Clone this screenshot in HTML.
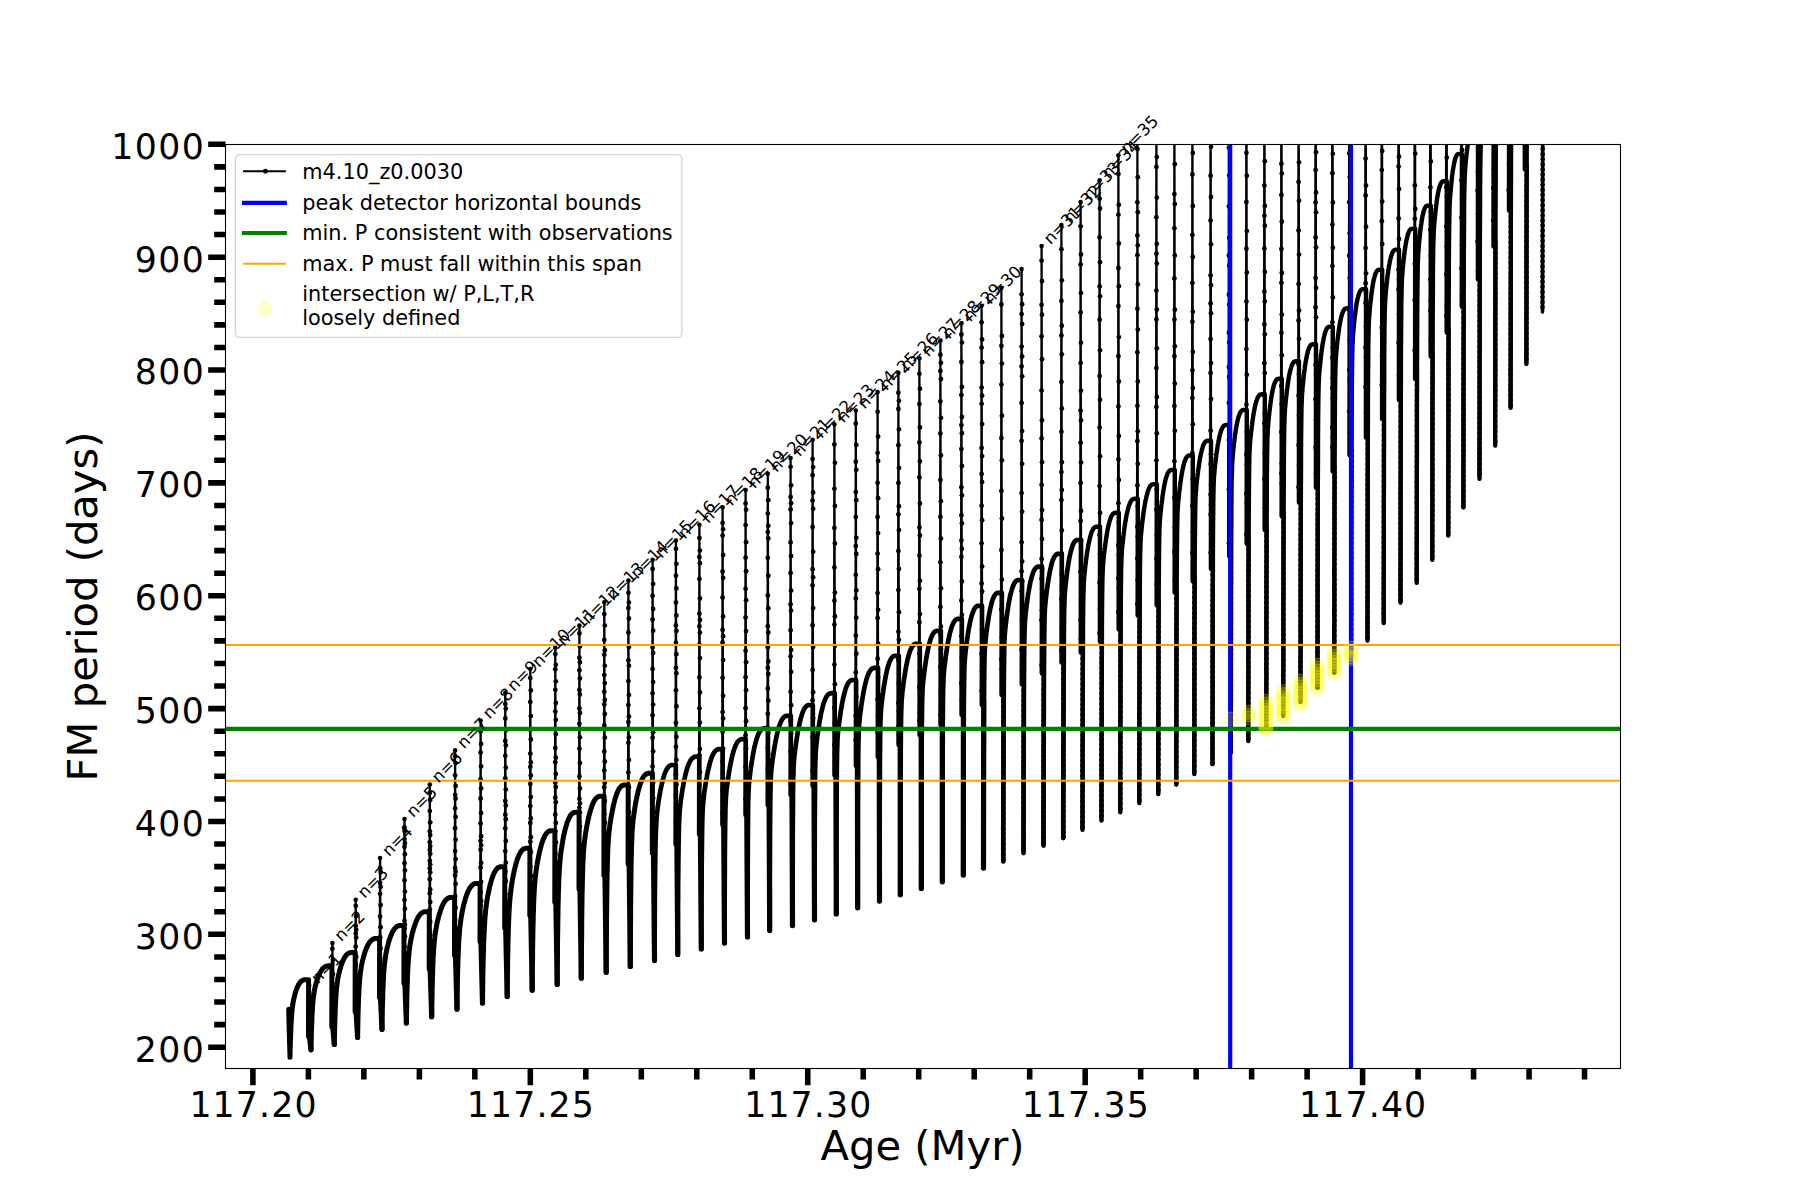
<!DOCTYPE html>
<html lang="en"><head><meta charset="utf-8"><title>FM period vs Age</title>
<style>html,body{margin:0;padding:0;background:#fff;overflow:hidden}svg{display:block}text{font-family:'DejaVu Sans','Liberation Sans',sans-serif;fill:#000}</style></head><body>
<svg width="1800" height="1200" viewBox="0 0 1800 1200">
<rect x="0" y="0" width="1800" height="1200" fill="#fff"/>
<defs><clipPath id="ax"><rect x="225.5" y="144.5" width="1395.0" height="924.0"/></clipPath></defs>
<g clip-path="url(#ax)" fill="none" stroke="#000" stroke-linecap="round" stroke-linejoin="round">
<path stroke-width="2.3" d="M308.7 1036.5 L309.1 985.3 L309.6 1036.5 M332.0 1027.0 L332.4 943.1 L332.9 1027.0 M355.3 1012.1 L355.7 899.8 L356.2 1012.1 M379.7 997.8 L380.1 858.1 L380.6 997.8 M404.1 983.5 L404.5 819.0 L405.0 983.5 M429.4 969.3 L429.8 784.6 L430.3 969.3 M454.7 955.5 L455.1 750.3 L455.6 955.5 M480.2 941.8 L480.6 720.6 L481.1 941.8 M504.9 928.3 L505.3 693.1 L505.8 928.3 M529.9 915.8 L530.3 669.0 L530.8 915.8 M554.9 902.5 L555.3 647.8 L555.8 902.5 M579.0 889.2 L579.4 625.6 L579.9 889.2 M603.9 875.8 L604.3 602.3 L604.8 875.8 M628.0 864.2 L628.4 580.6 L628.9 864.2 M652.2 853.3 L652.6 559.8 L653.1 853.3 M675.5 844.2 L675.9 540.6 L676.4 844.2 M699.0 834.2 L699.4 524.8 L699.9 834.2 M722.2 825.0 L722.6 507.3 L723.1 825.0 M745.2 815.0 L745.6 490.0 L746.1 815.0 M767.4 805.0 L767.8 473.7 L768.3 805.0 M790.2 795.0 L790.6 458.1 L791.1 795.0 M812.2 785.8 L812.6 439.8 L813.1 785.8 M834.0 775.3 L834.4 424.2 L834.9 775.3 M855.4 765.8 L855.8 410.5 L856.3 765.8 M877.2 757.0 L877.6 392.1 L878.1 757.0 M898.0 745.0 L898.4 372.9 L898.9 745.0 M919.0 735.0 L919.4 358.2 L919.9 735.0 M940.0 725.0 L940.4 340.5 L940.9 725.0 M961.0 715.0 L961.4 323.3 L961.9 715.0 M981.2 705.0 L981.6 305.8 L982.1 705.0 M1001.0 695.0 L1001.4 287.8 L1001.9 695.0 M1021.2 684.2 L1021.6 269.1 L1022.1 684.2 M1041.2 673.3 L1041.6 246.1 L1042.1 673.3 M1061.0 662.5 L1061.4 225.0 L1061.9 662.5 M1080.2 652.5 L1080.6 202.0 L1081.1 652.5 M1099.2 641.5 L1099.6 180.3 L1100.1 641.5 M1118.0 629.2 L1118.4 155.3 L1118.9 629.2 M1137.0 615.5 L1137.4 132.3 L1137.9 615.5 M1156.0 605.3 L1156.4 109.3 L1156.9 605.3 M1174.0 592.5 L1174.4 86.3 L1174.9 592.5 M1192.0 581.3 L1192.4 63.3 L1192.9 581.3 M1210.2 568.8 L1210.6 40.3 L1211.1 568.8 M1228.5 556.3 L1228.9 17.3 L1229.4 556.3 M1246.0 543.8 L1246.4 -5.7 L1246.9 543.8 M1264.0 530.0 L1264.4 -28.7 L1264.9 530.0 M1281.0 516.3 L1281.4 -51.7 L1281.9 516.3 M1298.2 502.6 L1298.6 -74.7 L1299.1 502.6 M1315.2 487.6 L1315.6 -97.7 L1316.1 487.6 M1332.0 471.4 L1332.4 -120.7 L1332.9 471.4 M1348.9 455.1 L1349.3 -143.7 L1349.8 455.1 M1365.2 437.6 L1365.6 -166.7 L1366.1 437.6 M1381.4 418.9 L1381.8 -189.7 L1382.3 418.9 M1398.2 400.1 L1398.6 -212.7 L1399.1 400.1 M1414.4 378.9 L1414.8 -235.7 L1415.3 378.9 M1430.0 356.4 L1430.4 -258.7 L1430.9 356.4 M1446.0 332.6 L1446.4 -281.7 L1446.9 332.6 M1461.1 306.6 L1461.5 -304.7 L1462.0 306.6 M1477.2 279.2 L1477.6 -327.7 L1478.1 279.2 M1492.9 246.6 L1493.3 -350.7 L1493.8 246.6 M1508.3 210.6 L1508.7 -373.7 L1509.2 210.6 M1524.1 169.2 L1524.5 -396.7 L1525.0 169.2 M1540.2 122.5 L1540.6 -419.7 L1541.1 122.5"/>
<path stroke-width="5.0" d="M288.7 1009.2 L289.2 1030.0 L290.0 1057.2 M290.0 1057.2 L290.0 1057.2 L290.0 1057.1 L290.0 1056.8 L290.0 1056.4 L290.0 1055.8 L290.0 1055.0 L290.1 1054.0 L290.1 1052.7 L290.1 1051.2 L290.2 1049.6 L290.2 1047.7 L290.3 1045.6 L290.3 1043.4 L290.4 1041.1 L290.5 1038.6 L290.6 1036.1 L290.7 1033.5 L290.8 1030.9 L290.9 1028.3 L291.0 1025.7 L291.1 1023.2 L291.3 1020.7 L291.4 1018.4 L291.6 1016.1 L291.7 1014.0 L291.9 1011.9 L292.1 1010.0 L292.3 1008.1 L292.5 1006.4 L292.8 1004.8 L293.0 1003.2 L293.2 1001.7 L293.5 1000.3 L293.8 998.9 L294.1 997.6 L294.4 996.4 L294.7 995.1 L295.0 994.0 L295.3 992.8 L295.7 991.7 L296.0 990.6 L296.4 989.6 L296.8 988.5 L297.2 987.6 L297.6 986.6 L298.0 985.7 L298.5 984.9 L298.9 984.1 L299.4 983.4 L299.9 982.7 L300.4 982.1 L300.9 981.6 L301.4 981.1 L302.0 980.7 L302.6 980.4 L303.1 980.1 L303.7 979.9 L304.3 979.8 L305.0 979.8 L305.6 979.8 L308.6 979.8 L308.5 1036.5 M311.0 1049.8 L311.0 1049.8 L311.0 1049.7 L311.0 1049.4 L311.0 1048.8 L311.0 1048.1 L311.1 1047.1 L311.1 1045.8 L311.1 1044.3 L311.2 1042.6 L311.2 1040.6 L311.3 1038.3 L311.3 1035.9 L311.4 1033.3 L311.5 1030.6 L311.6 1027.8 L311.7 1024.9 L311.8 1022.0 L311.9 1019.1 L312.0 1016.2 L312.1 1013.5 L312.3 1010.8 L312.5 1008.2 L312.6 1005.7 L312.8 1003.4 L313.0 1001.2 L313.2 999.2 L313.4 997.2 L313.7 995.4 L313.9 993.7 L314.2 992.1 L314.4 990.5 L314.7 989.1 L315.0 987.6 L315.3 986.3 L315.7 985.0 L316.0 983.7 L316.3 982.4 L316.7 981.2 L317.1 980.0 L317.5 978.8 L317.9 977.6 L318.3 976.5 L318.8 975.4 L319.2 974.4 L319.7 973.4 L320.2 972.4 L320.7 971.5 L321.2 970.7 L321.8 969.9 L322.3 969.1 L322.9 968.5 L323.5 967.9 L324.1 967.4 L324.8 967.0 L325.4 966.6 L326.1 966.3 L326.7 966.1 L327.4 966.0 L328.2 966.0 L328.9 966.0 L331.9 966.0 L331.8 1027.0 M334.3 1044.5 L334.3 1044.5 L334.3 1044.4 L334.3 1044.0 L334.3 1043.4 L334.3 1042.6 L334.4 1041.5 L334.4 1040.2 L334.4 1038.5 L334.5 1036.6 L334.5 1034.4 L334.6 1031.9 L334.6 1029.3 L334.7 1026.4 L334.8 1023.4 L334.9 1020.3 L335.0 1017.2 L335.1 1014.0 L335.2 1010.8 L335.3 1007.7 L335.4 1004.6 L335.6 1001.7 L335.8 998.8 L335.9 996.1 L336.1 993.6 L336.3 991.2 L336.5 988.9 L336.7 986.8 L337.0 984.8 L337.2 982.9 L337.5 981.1 L337.7 979.4 L338.0 977.8 L338.3 976.3 L338.6 974.8 L339.0 973.3 L339.3 971.9 L339.6 970.5 L340.0 969.2 L340.4 967.8 L340.8 966.5 L341.2 965.3 L341.6 964.1 L342.1 962.9 L342.5 961.7 L343.0 960.6 L343.5 959.6 L344.0 958.6 L344.5 957.6 L345.1 956.8 L345.6 956.0 L346.2 955.2 L346.8 954.6 L347.4 954.0 L348.1 953.6 L348.7 953.2 L349.4 952.9 L350.0 952.7 L350.7 952.5 L351.5 952.5 L352.2 952.5 L355.2 952.5 L355.1 1012.1 M357.6 1037.4 L357.6 1037.4 L357.6 1037.2 L357.6 1036.8 L357.6 1036.2 L357.6 1035.3 L357.7 1034.0 L357.7 1032.5 L357.7 1030.6 L357.8 1028.4 L357.8 1026.0 L357.9 1023.2 L357.9 1020.3 L358.0 1017.1 L358.1 1013.8 L358.2 1010.4 L358.3 1006.9 L358.4 1003.5 L358.5 1000.0 L358.7 996.6 L358.8 993.4 L359.0 990.2 L359.1 987.3 L359.3 984.4 L359.5 981.8 L359.7 979.3 L359.9 976.9 L360.2 974.7 L360.4 972.7 L360.7 970.7 L361.0 968.9 L361.2 967.1 L361.5 965.5 L361.9 963.8 L362.2 962.3 L362.5 960.8 L362.9 959.3 L363.3 957.8 L363.7 956.4 L364.1 955.0 L364.5 953.6 L364.9 952.2 L365.4 950.9 L365.9 949.6 L366.3 948.4 L366.9 947.2 L367.4 946.1 L367.9 945.0 L368.5 944.0 L369.1 943.1 L369.6 942.2 L370.3 941.4 L370.9 940.8 L371.5 940.2 L372.2 939.7 L372.9 939.2 L373.6 938.9 L374.3 938.7 L375.1 938.5 L375.8 938.5 L376.6 938.5 L379.6 938.5 L379.5 997.8 M382.0 1029.4 L382.0 1029.4 L382.0 1029.2 L382.0 1028.8 L382.0 1028.1 L382.0 1027.1 L382.1 1025.9 L382.1 1024.2 L382.1 1022.3 L382.2 1020.0 L382.2 1017.4 L382.3 1014.5 L382.3 1011.4 L382.4 1008.1 L382.5 1004.6 L382.6 1001.0 L382.7 997.4 L382.8 993.7 L382.9 990.1 L383.1 986.6 L383.2 983.2 L383.4 979.9 L383.5 976.7 L383.7 973.7 L383.9 970.9 L384.1 968.3 L384.3 965.9 L384.6 963.6 L384.8 961.4 L385.1 959.4 L385.4 957.4 L385.6 955.6 L385.9 953.8 L386.3 952.1 L386.6 950.5 L386.9 948.9 L387.3 947.3 L387.7 945.8 L388.1 944.3 L388.5 942.8 L388.9 941.3 L389.3 939.9 L389.8 938.5 L390.3 937.2 L390.7 935.9 L391.3 934.7 L391.8 933.5 L392.3 932.3 L392.9 931.3 L393.5 930.3 L394.0 929.4 L394.7 928.6 L395.3 927.9 L395.9 927.2 L396.6 926.7 L397.3 926.3 L398.0 925.9 L398.7 925.7 L399.5 925.5 L400.2 925.5 L401.0 925.5 L404.0 925.5 L403.9 983.5 M406.4 1023.1 L406.4 1023.1 L406.4 1022.9 L406.4 1022.4 L406.4 1021.7 L406.4 1020.6 L406.5 1019.1 L406.5 1017.3 L406.5 1015.1 L406.6 1012.6 L406.6 1009.7 L406.7 1006.6 L406.8 1003.1 L406.8 999.5 L406.9 995.7 L407.0 991.8 L407.1 987.8 L407.3 983.9 L407.4 980.0 L407.5 976.2 L407.7 972.5 L407.8 969.0 L408.0 965.7 L408.2 962.6 L408.4 959.7 L408.6 956.9 L408.9 954.4 L409.1 952.0 L409.4 949.7 L409.6 947.6 L409.9 945.6 L410.2 943.7 L410.5 941.9 L410.9 940.1 L411.2 938.4 L411.6 936.7 L411.9 935.0 L412.3 933.4 L412.8 931.8 L413.2 930.2 L413.6 928.7 L414.1 927.2 L414.6 925.7 L415.1 924.2 L415.6 922.9 L416.1 921.5 L416.6 920.3 L417.2 919.0 L417.8 917.9 L418.4 916.9 L419.0 915.9 L419.7 915.0 L420.3 914.2 L421.0 913.6 L421.7 913.0 L422.4 912.5 L423.1 912.2 L423.9 911.9 L424.7 911.7 L425.5 911.7 L426.3 911.7 L429.3 911.7 L429.2 969.3 M431.7 1016.8 L431.7 1016.8 L431.7 1016.6 L431.7 1016.1 L431.7 1015.3 L431.7 1014.1 L431.8 1012.5 L431.8 1010.6 L431.8 1008.3 L431.9 1005.6 L431.9 1002.5 L432.0 999.1 L432.1 995.4 L432.1 991.5 L432.2 987.4 L432.3 983.3 L432.4 979.0 L432.6 974.8 L432.7 970.6 L432.8 966.6 L433.0 962.7 L433.1 958.9 L433.3 955.4 L433.5 952.0 L433.7 948.9 L433.9 945.9 L434.2 943.2 L434.4 940.6 L434.7 938.2 L434.9 936.0 L435.2 933.8 L435.5 931.8 L435.8 929.8 L436.2 927.9 L436.5 926.1 L436.9 924.3 L437.2 922.5 L437.6 920.7 L438.1 919.0 L438.5 917.3 L438.9 915.7 L439.4 914.1 L439.9 912.5 L440.4 910.9 L440.9 909.5 L441.4 908.0 L441.9 906.7 L442.5 905.4 L443.1 904.2 L443.7 903.0 L444.3 902.0 L445.0 901.1 L445.6 900.2 L446.3 899.5 L447.0 898.9 L447.7 898.4 L448.4 898.0 L449.2 897.7 L450.0 897.6 L450.8 897.5 L451.6 897.5 L454.6 897.5 L454.5 955.5 M457.0 1009.2 L457.0 1009.2 L457.0 1008.9 L457.0 1008.4 L457.0 1007.6 L457.0 1006.3 L457.1 1004.7 L457.1 1002.6 L457.1 1000.1 L457.2 997.3 L457.2 994.0 L457.3 990.4 L457.4 986.5 L457.4 982.4 L457.5 978.1 L457.6 973.6 L457.7 969.2 L457.9 964.7 L458.0 960.3 L458.1 956.0 L458.3 951.9 L458.5 948.0 L458.6 944.2 L458.8 940.7 L459.0 937.5 L459.3 934.4 L459.5 931.5 L459.7 928.8 L460.0 926.3 L460.3 924.0 L460.6 921.7 L460.9 919.6 L461.2 917.5 L461.5 915.5 L461.9 913.6 L462.2 911.7 L462.6 909.8 L463.0 908.0 L463.4 906.2 L463.8 904.4 L464.3 902.7 L464.8 900.9 L465.2 899.3 L465.7 897.7 L466.3 896.1 L466.8 894.6 L467.3 893.2 L467.9 891.8 L468.5 890.5 L469.1 889.3 L469.7 888.2 L470.4 887.3 L471.1 886.4 L471.7 885.6 L472.4 885.0 L473.2 884.4 L473.9 884.0 L474.7 883.7 L475.5 883.6 L476.3 883.5 L477.1 883.5 L480.1 883.5 L480.0 941.8 M482.5 1003.1 L482.5 1003.1 L482.5 1002.8 L482.5 1002.3 L482.5 1001.4 L482.5 1000.1 L482.6 998.4 L482.6 996.2 L482.6 993.6 L482.7 990.6 L482.7 987.1 L482.8 983.3 L482.8 979.2 L482.9 974.8 L483.0 970.2 L483.1 965.5 L483.2 960.7 L483.3 955.9 L483.5 951.1 L483.6 946.5 L483.7 942.0 L483.9 937.7 L484.1 933.6 L484.3 929.7 L484.5 926.0 L484.7 922.6 L484.9 919.4 L485.1 916.4 L485.4 913.6 L485.6 911.0 L485.9 908.5 L486.2 906.1 L486.5 903.8 L486.8 901.6 L487.2 899.5 L487.5 897.4 L487.9 895.3 L488.3 893.3 L488.7 891.3 L489.1 889.4 L489.5 887.5 L489.9 885.6 L490.4 883.8 L490.9 882.1 L491.4 880.4 L491.9 878.7 L492.4 877.2 L493.0 875.7 L493.5 874.3 L494.1 873.0 L494.7 871.9 L495.4 870.8 L496.0 869.8 L496.7 869.0 L497.3 868.3 L498.0 867.7 L498.7 867.3 L499.5 867.0 L500.2 866.8 L501.0 866.7 L501.8 866.7 L504.8 866.7 L504.7 928.3 M507.2 996.5 L507.2 996.5 L507.2 996.2 L507.2 995.5 L507.2 994.4 L507.2 992.9 L507.3 990.9 L507.3 988.3 L507.3 985.2 L507.4 981.7 L507.4 977.6 L507.5 973.2 L507.6 968.4 L507.6 963.4 L507.7 958.1 L507.8 952.7 L507.9 947.3 L508.0 942.0 L508.2 936.7 L508.3 931.6 L508.5 926.8 L508.6 922.1 L508.8 917.8 L509.0 913.7 L509.2 909.9 L509.4 906.4 L509.6 903.1 L509.9 900.1 L510.1 897.2 L510.4 894.6 L510.7 892.0 L511.0 889.6 L511.3 887.3 L511.6 885.0 L512.0 882.8 L512.3 880.6 L512.7 878.5 L513.1 876.4 L513.5 874.4 L513.9 872.3 L514.3 870.3 L514.8 868.4 L515.3 866.4 L515.7 864.6 L516.3 862.8 L516.8 861.1 L517.3 859.4 L517.9 857.8 L518.5 856.4 L519.0 855.0 L519.7 853.8 L520.3 852.6 L520.9 851.6 L521.6 850.7 L522.3 850.0 L523.0 849.4 L523.7 848.9 L524.5 848.6 L525.3 848.4 L526.0 848.3 L526.9 848.3 L529.9 848.2 L529.8 915.8 M532.2 990.1 L532.2 990.1 L532.2 989.7 L532.2 988.9 L532.2 987.6 L532.2 985.8 L532.3 983.3 L532.3 980.2 L532.3 976.6 L532.4 972.3 L532.4 967.6 L532.5 962.3 L532.6 956.7 L532.6 950.9 L532.7 944.8 L532.8 938.6 L532.9 932.5 L533.0 926.5 L533.2 920.6 L533.3 915.0 L533.5 909.7 L533.6 904.8 L533.8 900.2 L534.0 895.9 L534.2 892.0 L534.4 888.4 L534.6 885.2 L534.9 882.1 L535.1 879.3 L535.4 876.6 L535.7 874.2 L536.0 871.8 L536.3 869.5 L536.6 867.3 L537.0 865.1 L537.3 863.0 L537.7 860.8 L538.1 858.8 L538.5 856.7 L538.9 854.7 L539.4 852.7 L539.8 850.8 L540.3 848.8 L540.8 847.0 L541.3 845.2 L541.8 843.5 L542.3 841.8 L542.9 840.2 L543.5 838.8 L544.1 837.4 L544.7 836.2 L545.3 835.0 L546.0 834.0 L546.7 833.1 L547.3 832.4 L548.1 831.8 L548.8 831.3 L549.5 831.0 L550.3 830.8 L551.1 830.7 L551.9 830.7 L554.9 830.7 L554.8 902.5 M557.2 984.5 L557.2 984.5 L557.2 984.0 L557.2 983.1 L557.2 981.6 L557.2 979.4 L557.3 976.6 L557.3 973.0 L557.3 968.8 L557.4 963.9 L557.4 958.4 L557.5 952.4 L557.5 946.0 L557.6 939.3 L557.7 932.4 L557.8 925.4 L557.9 918.5 L558.0 911.7 L558.1 905.2 L558.3 899.0 L558.4 893.2 L558.6 887.8 L558.7 882.9 L558.9 878.3 L559.1 874.2 L559.3 870.4 L559.5 867.0 L559.8 863.8 L560.0 861.0 L560.3 858.3 L560.5 855.8 L560.8 853.4 L561.1 851.1 L561.4 848.8 L561.8 846.7 L562.1 844.5 L562.5 842.4 L562.8 840.4 L563.2 838.3 L563.6 836.3 L564.0 834.3 L564.5 832.4 L564.9 830.4 L565.4 828.6 L565.9 826.8 L566.4 825.1 L566.9 823.4 L567.4 821.8 L568.0 820.4 L568.6 819.0 L569.2 817.8 L569.8 816.6 L570.4 815.6 L571.0 814.7 L571.7 814.0 L572.4 813.4 L573.1 812.9 L573.8 812.6 L574.5 812.4 L575.3 812.3 L576.1 812.3 L579.1 812.2 L579.0 889.2 M581.3 978.1 L581.3 978.0 L581.3 977.5 L581.3 976.4 L581.3 974.5 L581.3 971.9 L581.4 968.5 L581.4 964.2 L581.4 959.1 L581.5 953.2 L581.5 946.7 L581.6 939.6 L581.7 932.2 L581.7 924.4 L581.8 916.6 L581.9 908.8 L582.0 901.2 L582.1 893.9 L582.3 887.0 L582.4 880.6 L582.6 874.6 L582.7 869.2 L582.9 864.4 L583.1 860.0 L583.3 856.1 L583.5 852.5 L583.7 849.4 L584.0 846.5 L584.2 843.8 L584.5 841.4 L584.8 839.0 L585.1 836.8 L585.4 834.6 L585.7 832.5 L586.1 830.4 L586.4 828.3 L586.8 826.3 L587.2 824.2 L587.6 822.2 L588.0 820.2 L588.5 818.2 L588.9 816.2 L589.4 814.3 L589.9 812.5 L590.4 810.7 L590.9 809.0 L591.5 807.3 L592.0 805.7 L592.6 804.3 L593.2 802.9 L593.8 801.7 L594.4 800.5 L595.1 799.5 L595.8 798.6 L596.5 797.9 L597.2 797.3 L597.9 796.8 L598.7 796.5 L599.4 796.3 L600.2 796.2 L601.0 796.2 L604.0 796.2 L603.9 875.8 M606.2 972.3 L606.2 972.2 L606.2 971.6 L606.2 970.4 L606.2 968.4 L606.2 965.5 L606.3 961.8 L606.3 957.1 L606.3 951.5 L606.4 945.2 L606.4 938.1 L606.5 930.5 L606.5 922.5 L606.6 914.3 L606.7 906.0 L606.8 897.8 L606.9 889.8 L607.0 882.3 L607.1 875.1 L607.3 868.6 L607.4 862.6 L607.6 857.2 L607.7 852.3 L607.9 848.0 L608.1 844.2 L608.3 840.7 L608.5 837.7 L608.8 834.9 L609.0 832.3 L609.3 829.9 L609.6 827.6 L609.8 825.4 L610.1 823.3 L610.5 821.2 L610.8 819.1 L611.1 817.1 L611.5 815.0 L611.9 813.0 L612.3 811.0 L612.7 809.0 L613.1 807.0 L613.5 805.0 L614.0 803.1 L614.5 801.3 L614.9 799.5 L615.4 797.8 L616.0 796.1 L616.5 794.5 L617.1 793.1 L617.6 791.7 L618.2 790.5 L618.8 789.3 L619.5 788.3 L620.1 787.4 L620.8 786.7 L621.5 786.1 L622.2 785.6 L622.9 785.3 L623.6 785.1 L624.4 785.0 L625.2 785.0 L628.2 785.0 L628.1 864.2 M630.3 966.5 L630.3 966.4 L630.3 965.7 L630.3 964.3 L630.3 962.0 L630.3 958.7 L630.4 954.3 L630.4 949.0 L630.4 942.6 L630.5 935.5 L630.5 927.5 L630.6 919.1 L630.6 910.3 L630.7 901.3 L630.8 892.4 L630.9 883.7 L631.0 875.4 L631.1 867.6 L631.2 860.4 L631.4 853.9 L631.5 848.1 L631.7 842.9 L631.9 838.3 L632.0 834.3 L632.2 830.8 L632.4 827.7 L632.7 824.9 L632.9 822.3 L633.1 820.0 L633.4 817.7 L633.7 815.6 L634.0 813.5 L634.3 811.4 L634.6 809.4 L634.9 807.4 L635.3 805.3 L635.6 803.3 L636.0 801.3 L636.4 799.3 L636.8 797.3 L637.2 795.3 L637.7 793.3 L638.1 791.4 L638.6 789.6 L639.1 787.8 L639.6 786.1 L640.1 784.4 L640.7 782.8 L641.3 781.4 L641.8 780.0 L642.4 778.8 L643.0 777.6 L643.7 776.6 L644.3 775.7 L645.0 775.0 L645.7 774.4 L646.4 773.9 L647.1 773.6 L647.9 773.4 L648.6 773.3 L649.4 773.3 L652.4 773.2 L652.3 853.3"/>
<path stroke-width="4.7" d="M654.5 960.6 L654.5 960.5 L654.5 959.8 L654.5 958.2 L654.5 955.7 L654.5 952.1 L654.6 947.5 L654.6 941.7 L654.6 934.9 L654.7 927.3 L654.7 918.9 L654.8 910.0 L654.8 900.7 L654.9 891.4 L655.0 882.2 L655.1 873.3 L655.2 864.9 L655.3 857.1 L655.4 850.0 L655.5 843.6 L655.7 838.0 L655.8 833.0 L656.0 828.7 L656.2 824.9 L656.4 821.6 L656.5 818.6 L656.8 816.0 L657.0 813.6 L657.2 811.4 L657.5 809.2 L657.7 807.1 L658.0 805.1 L658.3 803.1 L658.6 801.1 L658.9 799.0 L659.3 797.0 L659.6 795.0 L660.0 793.0 L660.3 791.0 L660.7 789.0 L661.1 787.0 L661.6 785.0 L662.0 783.1 L662.5 781.3 L662.9 779.5 L663.4 777.8 L663.9 776.1 L664.4 774.5 L665.0 773.1 L665.5 771.7 L666.1 770.5 L666.7 769.3 L667.3 768.3 L667.9 767.4 L668.6 766.7 L669.2 766.1 L669.9 765.6 L670.6 765.3 L671.3 765.1 L672.0 765.0 L672.8 765.0 L675.8 765.0 L675.7 844.2 M677.8 954.5 L677.8 954.4 L677.8 953.5 L677.8 951.7 L677.8 948.8 L677.8 944.7 L677.9 939.4 L677.9 932.8 L677.9 925.2 L678.0 916.6 L678.0 907.4 L678.1 897.6 L678.1 887.7 L678.2 877.9 L678.3 868.4 L678.4 859.3 L678.5 851.0 L678.6 843.5 L678.7 836.7 L678.8 830.9 L679.0 825.8 L679.1 821.4 L679.3 817.6 L679.5 814.4 L679.7 811.6 L679.9 809.1 L680.1 806.8 L680.3 804.6 L680.6 802.6 L680.8 800.6 L681.1 798.6 L681.4 796.7 L681.7 794.7 L682.0 792.7 L682.3 790.7 L682.6 788.7 L683.0 786.7 L683.3 784.7 L683.7 782.7 L684.1 780.7 L684.5 778.7 L685.0 776.7 L685.4 774.8 L685.9 773.0 L686.3 771.2 L686.8 769.5 L687.3 767.8 L687.9 766.2 L688.4 764.8 L689.0 763.4 L689.6 762.2 L690.2 761.0 L690.8 760.0 L691.4 759.1 L692.1 758.4 L692.7 757.8 L693.4 757.3 L694.1 757.0 L694.8 756.8 L695.6 756.7 L696.3 756.7 L699.3 756.7 L699.2 834.2 M701.3 949.0 L701.3 948.8 L701.3 947.9 L701.3 945.8 L701.3 942.5 L701.3 937.9 L701.4 931.8 L701.4 924.4 L701.4 915.9 L701.5 906.5 L701.5 896.4 L701.6 885.9 L701.6 875.4 L701.7 865.2 L701.8 855.5 L701.9 846.5 L702.0 838.4 L702.1 831.3 L702.2 825.0 L702.3 819.7 L702.5 815.2 L702.6 811.4 L702.8 808.2 L703.0 805.4 L703.2 803.0 L703.4 800.8 L703.6 798.7 L703.8 796.7 L704.0 794.8 L704.3 792.9 L704.5 791.0 L704.8 789.1 L705.1 787.2 L705.4 785.2 L705.7 783.2 L706.1 781.2 L706.4 779.2 L706.8 777.2 L707.1 775.2 L707.5 773.2 L707.9 771.2 L708.4 769.2 L708.8 767.3 L709.3 765.5 L709.7 763.7 L710.2 762.0 L710.7 760.3 L711.2 758.7 L711.8 757.3 L712.3 755.9 L712.9 754.7 L713.5 753.5 L714.1 752.5 L714.7 751.6 L715.4 750.9 L716.0 750.3 L716.7 749.8 L717.4 749.5 L718.1 749.3 L718.9 749.2 L719.6 749.2 L722.6 749.2 L722.5 825.0 M724.5 943.1 L724.5 942.9 L724.5 941.7 L724.5 939.3 L724.5 935.4 L724.5 929.9 L724.6 922.7 L724.6 914.2 L724.6 904.4 L724.7 893.7 L724.7 882.4 L724.8 871.0 L724.8 859.8 L724.9 849.2 L725.0 839.3 L725.1 830.5 L725.2 822.8 L725.3 816.2 L725.4 810.7 L725.5 806.1 L725.7 802.3 L725.8 799.1 L726.0 796.5 L726.2 794.2 L726.3 792.1 L726.5 790.2 L726.7 788.3 L727.0 786.5 L727.2 784.7 L727.4 782.9 L727.7 781.0 L728.0 779.1 L728.3 777.1 L728.6 775.2 L728.9 773.2 L729.2 771.2 L729.6 769.2 L729.9 767.2 L730.3 765.2 L730.7 763.2 L731.1 761.2 L731.5 759.2 L731.9 757.3 L732.4 755.5 L732.9 753.7 L733.3 752.0 L733.8 750.3 L734.4 748.7 L734.9 747.3 L735.4 745.9 L736.0 744.7 L736.6 743.5 L737.2 742.5 L737.8 741.6 L738.5 740.9 L739.1 740.3 L739.8 739.8 L740.5 739.5 L741.2 739.3 L741.9 739.2 L742.7 739.2 L745.7 739.2 L745.6 815.0 M747.5 936.9 L747.5 936.7 L747.5 935.3 L747.5 932.4 L747.5 927.7 L747.5 921.2 L747.6 912.8 L747.6 902.9 L747.6 891.7 L747.7 879.6 L747.7 867.2 L747.8 854.8 L747.8 843.1 L747.9 832.2 L748.0 822.4 L748.0 814.0 L748.1 806.9 L748.2 801.0 L748.4 796.2 L748.5 792.4 L748.6 789.3 L748.8 786.7 L748.9 784.5 L749.1 782.5 L749.3 780.7 L749.5 779.0 L749.7 777.3 L749.9 775.5 L750.1 773.7 L750.3 771.9 L750.6 770.1 L750.8 768.2 L751.1 766.2 L751.4 764.3 L751.7 762.3 L752.0 760.3 L752.4 758.3 L752.7 756.3 L753.1 754.3 L753.4 752.3 L753.8 750.3 L754.2 748.3 L754.6 746.4 L755.1 744.6 L755.5 742.8 L756.0 741.1 L756.5 739.4 L757.0 737.8 L757.5 736.4 L758.0 735.0 L758.5 733.8 L759.1 732.6 L759.7 731.6 L760.3 730.7 L760.9 730.0 L761.5 729.4 L762.2 728.9 L762.8 728.6 L763.5 728.4 L764.2 728.3 L764.9 728.2 L767.9 728.2 L767.8 805.0 M769.7 930.6 L769.7 930.3 L769.7 928.8 L769.7 925.7 L769.7 920.6 L769.7 913.6 L769.8 904.6 L769.8 894.0 L769.8 882.0 L769.9 869.2 L769.9 856.0 L770.0 843.1 L770.0 830.8 L770.1 819.5 L770.2 809.5 L770.3 800.9 L770.4 793.8 L770.5 787.9 L770.6 783.2 L770.7 779.5 L770.9 776.4 L771.0 774.0 L771.2 771.8 L771.3 769.9 L771.5 768.2 L771.7 766.4 L771.9 764.7 L772.2 763.0 L772.4 761.2 L772.6 759.4 L772.9 757.6 L773.2 755.7 L773.5 753.7 L773.8 751.8 L774.1 749.8 L774.4 747.8 L774.7 745.8 L775.1 743.8 L775.5 741.8 L775.9 739.8 L776.3 737.8 L776.7 735.8 L777.1 733.9 L777.6 732.1 L778.0 730.3 L778.5 728.6 L779.0 726.9 L779.5 725.3 L780.0 723.9 L780.6 722.5 L781.2 721.3 L781.7 720.1 L782.3 719.1 L783.0 718.2 L783.6 717.5 L784.2 716.9 L784.9 716.4 L785.6 716.1 L786.3 715.9 L787.0 715.8 L787.8 715.8 L790.8 715.8 L790.7 795.0 M792.5 925.6 L792.5 925.3 L792.5 923.8 L792.5 920.7 L792.5 915.7 L792.5 908.6 L792.6 899.6 L792.6 888.9 L792.6 876.8 L792.7 863.8 L792.7 850.4 L792.7 837.0 L792.8 824.3 L792.9 812.5 L793.0 802.0 L793.0 792.9 L793.1 785.2 L793.2 778.9 L793.4 773.7 L793.5 769.6 L793.6 766.3 L793.8 763.6 L793.9 761.3 L794.1 759.3 L794.3 757.5 L794.4 755.7 L794.6 754.0 L794.9 752.2 L795.1 750.4 L795.3 748.6 L795.6 746.8 L795.8 744.9 L796.1 742.9 L796.4 741.0 L796.7 739.0 L797.0 737.0 L797.3 735.0 L797.7 733.0 L798.0 731.0 L798.4 729.0 L798.8 727.0 L799.2 725.0 L799.6 723.1 L800.0 721.3 L800.5 719.5 L800.9 717.8 L801.4 716.1 L801.9 714.5 L802.4 713.1 L802.9 711.7 L803.5 710.5 L804.0 709.3 L804.6 708.3 L805.2 707.4 L805.8 706.7 L806.4 706.1 L807.1 705.6 L807.7 705.3 L808.4 705.1 L809.1 705.0 L809.8 705.0 L812.8 705.0 L812.7 785.8 M814.5 919.8 L814.5 919.5 L814.5 918.0 L814.5 914.8 L814.5 909.6 L814.5 902.3 L814.6 893.0 L814.6 882.0 L814.6 869.5 L814.6 856.1 L814.7 842.2 L814.7 828.4 L814.8 815.2 L814.9 803.0 L815.0 792.0 L815.0 782.5 L815.1 774.5 L815.2 767.9 L815.3 762.6 L815.5 758.3 L815.6 754.9 L815.7 752.1 L815.9 749.7 L816.1 747.7 L816.2 745.8 L816.4 744.0 L816.6 742.3 L816.8 740.5 L817.1 738.7 L817.3 736.9 L817.5 735.1 L817.8 733.2 L818.1 731.2 L818.4 729.3 L818.7 727.3 L819.0 725.3 L819.3 723.3 L819.6 721.3 L820.0 719.3 L820.4 717.3 L820.7 715.3 L821.1 713.3 L821.5 711.4 L822.0 709.6 L822.4 707.8 L822.9 706.1 L823.3 704.4 L823.8 702.8 L824.3 701.4 L824.9 700.0 L825.4 698.8 L825.9 697.6 L826.5 696.6 L827.1 695.7 L827.7 695.0 L828.3 694.4 L829.0 693.9 L829.6 693.6 L830.3 693.4 L831.0 693.3 L831.7 693.2 L834.7 693.2 L834.6 775.3 M836.3 914.0 L836.3 913.7 L836.3 912.1 L836.3 908.8 L836.3 903.5 L836.3 896.0 L836.4 886.5 L836.4 875.1 L836.4 862.2 L836.4 848.3 L836.5 833.9 L836.5 819.6 L836.6 805.8 L836.7 793.0 L836.7 781.5 L836.8 771.5 L836.9 763.0 L837.0 756.0 L837.1 750.3 L837.3 745.8 L837.4 742.1 L837.5 739.1 L837.7 736.7 L837.8 734.5 L838.0 732.6 L838.2 730.8 L838.4 729.0 L838.6 727.2 L838.8 725.4 L839.0 723.6 L839.3 721.8 L839.5 719.9 L839.8 717.9 L840.1 716.0 L840.4 714.0 L840.7 712.0 L841.0 710.0 L841.3 708.0 L841.7 706.0 L842.0 704.0 L842.4 702.0 L842.8 700.0 L843.2 698.1 L843.6 696.3 L844.1 694.5 L844.5 692.8 L845.0 691.1 L845.4 689.5 L845.9 688.1 L846.4 686.7 L847.0 685.5 L847.5 684.3 L848.1 683.3 L848.6 682.4 L849.2 681.7 L849.8 681.1 L850.5 680.6 L851.1 680.3 L851.8 680.1 L852.4 680.0 L853.1 680.0 L856.1 680.0 L856.0 765.8 M857.7 907.8 L857.7 907.5 L857.7 905.8 L857.7 902.3 L857.7 896.6 L857.7 888.7 L857.8 878.6 L857.8 866.6 L857.8 853.1 L857.9 838.5 L857.9 823.4 L857.9 808.5 L858.0 794.2 L858.1 781.0 L858.2 769.2 L858.2 759.0 L858.3 750.5 L858.4 743.5 L858.6 737.8 L858.7 733.3 L858.8 729.7 L859.0 726.8 L859.1 724.4 L859.3 722.3 L859.5 720.4 L859.6 718.6 L859.8 716.9 L860.0 715.1 L860.3 713.3 L860.5 711.5 L860.8 709.7 L861.0 707.8 L861.3 705.8 L861.6 703.9 L861.9 701.9 L862.2 699.9 L862.5 697.9 L862.9 695.9 L863.2 693.9 L863.6 691.9 L864.0 689.9 L864.4 687.9 L864.8 686.0 L865.2 684.2 L865.7 682.4 L866.1 680.7 L866.6 679.0 L867.1 677.4 L867.6 676.0 L868.1 674.6 L868.7 673.4 L869.2 672.2 L869.8 671.2 L870.4 670.3 L871.0 669.6 L871.6 669.0 L872.3 668.5 L872.9 668.2 L873.6 668.0 L874.3 667.9 L875.0 667.9 L878.0 667.9 L877.9 757.0 M879.5 901.1 L879.5 900.8 L879.5 899.2 L879.5 895.7 L879.5 890.2 L879.5 882.5 L879.6 872.6 L879.6 860.8 L879.6 847.3 L879.6 832.8 L879.7 817.6 L879.7 802.5 L879.8 787.9 L879.9 774.2 L879.9 761.9 L880.0 751.0 L880.1 741.8 L880.2 734.1 L880.3 727.9 L880.4 722.8 L880.5 718.8 L880.7 715.5 L880.8 712.9 L881.0 710.6 L881.1 708.6 L881.3 706.7 L881.5 704.9 L881.7 703.1 L881.9 701.3 L882.1 699.4 L882.4 697.6 L882.6 695.7 L882.9 693.7 L883.2 691.8 L883.4 689.8 L883.7 687.8 L884.0 685.8 L884.4 683.8 L884.7 681.8 L885.1 679.8 L885.4 677.8 L885.8 675.8 L886.2 673.9 L886.6 672.1 L887.0 670.3 L887.4 668.6 L887.9 666.9 L888.4 665.3 L888.8 663.9 L889.3 662.5 L889.8 661.3 L890.4 660.1 L890.9 659.1 L891.5 658.2 L892.0 657.5 L892.6 656.9 L893.2 656.4 L893.8 656.1 L894.5 655.9 L895.1 655.8 L895.8 655.8 L898.8 655.8 L898.7 745.0 M900.3 894.8 L900.3 894.5 L900.3 892.8 L900.3 889.2 L900.3 883.5 L900.3 875.4 L900.4 865.1 L900.4 852.8 L900.4 838.8 L900.4 823.7 L900.5 808.0 L900.5 792.3 L900.6 777.2 L900.7 763.1 L900.7 750.5 L900.8 739.4 L900.9 730.0 L901.0 722.2 L901.1 715.8 L901.2 710.8 L901.4 706.7 L901.5 703.5 L901.6 700.8 L901.8 698.6 L902.0 696.5 L902.1 694.7 L902.3 692.8 L902.5 691.1 L902.8 689.3 L903.0 687.4 L903.2 685.6 L903.5 683.7 L903.7 681.7 L904.0 679.8 L904.3 677.8 L904.6 675.8 L904.9 673.8 L905.2 671.8 L905.6 669.8 L905.9 667.8 L906.3 665.8 L906.7 663.8 L907.1 661.9 L907.5 660.1 L907.9 658.3 L908.3 656.6 L908.8 654.9 L909.3 653.3 L909.7 651.9 L910.2 650.5 L910.8 649.3 L911.3 648.1 L911.8 647.1 L912.4 646.2 L913.0 645.5 L913.6 644.9 L914.2 644.4 L914.8 644.1 L915.5 643.9 L916.1 643.8 L916.8 643.8 L919.8 643.8 L919.7 735.0 M921.3 888.6 L921.3 888.3 L921.3 886.5 L921.3 882.8 L921.3 876.8 L921.3 868.5 L921.4 857.8 L921.4 845.0 L921.4 830.5 L921.4 814.9 L921.5 798.6 L921.5 782.4 L921.6 766.7 L921.7 752.2 L921.7 739.1 L921.8 727.6 L921.9 717.9 L922.0 709.8 L922.1 703.3 L922.2 698.1 L922.4 693.9 L922.5 690.6 L922.6 687.9 L922.8 685.6 L923.0 683.6 L923.1 681.7 L923.3 679.9 L923.5 678.1 L923.8 676.3 L924.0 674.4 L924.2 672.6 L924.5 670.7 L924.7 668.7 L925.0 666.8 L925.3 664.8 L925.6 662.8 L925.9 660.8 L926.2 658.8 L926.6 656.8 L926.9 654.8 L927.3 652.8 L927.7 650.8 L928.1 648.9 L928.5 647.1 L928.9 645.3 L929.3 643.6 L929.8 641.9 L930.3 640.3 L930.7 638.9 L931.2 637.5 L931.8 636.3 L932.3 635.1 L932.8 634.1 L933.4 633.2 L934.0 632.5 L934.6 631.9 L935.2 631.4 L935.8 631.1 L936.5 630.9 L937.1 630.8 L937.8 630.8 L940.8 630.8 L940.7 725.0 M942.3 881.8 L942.3 881.5 L942.3 879.7 L942.3 875.8 L942.3 869.7 L942.3 861.1 L942.4 850.2 L942.4 837.0 L942.4 822.2 L942.4 806.1 L942.5 789.4 L942.5 772.7 L942.6 756.7 L942.7 741.8 L942.7 728.3 L942.8 716.5 L942.9 706.6 L943.0 698.3 L943.1 691.6 L943.2 686.3 L943.4 682.1 L943.5 678.7 L943.6 676.0 L943.8 673.6 L944.0 671.6 L944.1 669.7 L944.3 667.9 L944.5 666.1 L944.8 664.3 L945.0 662.4 L945.2 660.6 L945.5 658.7 L945.7 656.7 L946.0 654.8 L946.3 652.8 L946.6 650.8 L946.9 648.8 L947.2 646.8 L947.6 644.8 L947.9 642.8 L948.3 640.8 L948.7 638.8 L949.1 636.9 L949.5 635.1 L949.9 633.3 L950.3 631.6 L950.8 629.9 L951.3 628.3 L951.7 626.9 L952.2 625.5 L952.8 624.3 L953.3 623.1 L953.8 622.1 L954.4 621.2 L955.0 620.5 L955.6 619.9 L956.2 619.4 L956.8 619.1 L957.5 618.9 L958.1 618.8 L958.8 618.8 L961.8 618.8 L961.7 715.0 M963.3 875.1 L963.3 874.8 L963.3 873.0 L963.3 869.2 L963.3 863.2 L963.3 854.8 L963.3 843.9 L963.4 830.9 L963.4 816.0 L963.4 799.9 L963.5 783.1 L963.5 766.2 L963.6 749.7 L963.6 734.3 L963.7 720.2 L963.8 707.8 L963.9 697.2 L964.0 688.2 L964.1 680.9 L964.2 675.1 L964.3 670.4 L964.4 666.6 L964.6 663.6 L964.7 661.0 L964.9 658.8 L965.1 656.8 L965.2 655.0 L965.4 653.1 L965.6 651.3 L965.8 649.5 L966.1 647.6 L966.3 645.7 L966.6 643.7 L966.8 641.8 L967.1 639.8 L967.4 637.8 L967.7 635.8 L968.0 633.8 L968.3 631.8 L968.6 629.8 L969.0 627.8 L969.4 625.8 L969.7 623.9 L970.1 622.1 L970.5 620.3 L970.9 618.6 L971.4 616.9 L971.8 615.3 L972.3 613.9 L972.8 612.5 L973.3 611.3 L973.8 610.1 L974.3 609.1 L974.8 608.2 L975.4 607.5 L975.9 606.9 L976.5 606.4 L977.1 606.1 L977.7 605.9 L978.4 605.8 L979.0 605.8 L982.0 605.8 L981.9 705.0 M983.5 868.1 L983.5 867.8 L983.5 866.0 L983.5 862.2 L983.5 856.2 L983.5 847.7 L983.5 836.7 L983.6 823.6 L983.6 808.6 L983.6 792.3 L983.7 775.2 L983.7 757.9 L983.8 741.0 L983.8 725.1 L983.9 710.6 L984.0 697.7 L984.1 686.6 L984.2 677.2 L984.3 669.5 L984.4 663.2 L984.5 658.2 L984.6 654.2 L984.7 651.0 L984.9 648.3 L985.0 646.0 L985.2 644.0 L985.4 642.0 L985.6 640.2 L985.8 638.3 L986.0 636.5 L986.2 634.6 L986.4 632.7 L986.7 630.7 L986.9 628.8 L987.2 626.8 L987.5 624.8 L987.8 622.8 L988.1 620.8 L988.4 618.8 L988.7 616.8 L989.1 614.8 L989.4 612.8 L989.8 610.9 L990.2 609.1 L990.5 607.3 L991.0 605.6 L991.4 603.9 L991.8 602.3 L992.3 600.9 L992.7 599.5 L993.2 598.3 L993.7 597.1 L994.2 596.1 L994.7 595.2 L995.3 594.5 L995.8 593.9 L996.4 593.4 L997.0 593.1 L997.6 592.9 L998.2 592.8 L998.8 592.8 L1001.8 592.8 L1001.7 695.0 M1003.3 861.5 L1003.3 861.1 L1003.3 859.3 L1003.3 855.3 L1003.3 848.9 L1003.3 839.9 L1003.3 828.4 L1003.4 814.6 L1003.4 798.9 L1003.4 781.9 L1003.5 764.0 L1003.5 746.1 L1003.6 728.7 L1003.6 712.4 L1003.7 697.5 L1003.8 684.4 L1003.9 673.1 L1004.0 663.7 L1004.1 656.1 L1004.2 649.9 L1004.3 645.0 L1004.4 641.1 L1004.6 638.0 L1004.7 635.4 L1004.9 633.1 L1005.1 631.1 L1005.2 629.2 L1005.4 627.3 L1005.6 625.5 L1005.8 623.7 L1006.1 621.8 L1006.3 619.9 L1006.6 617.9 L1006.8 616.0 L1007.1 614.0 L1007.4 612.0 L1007.7 610.0 L1008.0 608.0 L1008.3 606.0 L1008.6 604.0 L1009.0 602.0 L1009.4 600.0 L1009.7 598.1 L1010.1 596.3 L1010.5 594.5 L1010.9 592.8 L1011.4 591.1 L1011.8 589.5 L1012.3 588.1 L1012.8 586.7 L1013.3 585.5 L1013.8 584.3 L1014.3 583.3 L1014.8 582.4 L1015.4 581.7 L1015.9 581.1 L1016.5 580.6 L1017.1 580.3 L1017.7 580.1 L1018.4 580.0 L1019.0 580.0 L1022.0 580.0 L1021.9 684.2 M1023.5 853.1 L1023.5 852.7 L1023.5 850.8 L1023.5 846.8 L1023.5 840.4 L1023.5 831.3 L1023.5 819.7 L1023.6 805.7 L1023.6 789.8 L1023.6 772.5 L1023.7 754.4 L1023.7 736.1 L1023.8 718.4 L1023.8 701.6 L1023.9 686.4 L1024.0 672.9 L1024.1 661.3 L1024.2 651.6 L1024.3 643.7 L1024.4 637.3 L1024.5 632.2 L1024.6 628.2 L1024.8 624.9 L1024.9 622.2 L1025.1 619.9 L1025.2 617.8 L1025.4 615.9 L1025.6 614.1 L1025.8 612.2 L1026.0 610.4 L1026.2 608.5 L1026.5 606.6 L1026.7 604.6 L1027.0 602.7 L1027.2 600.7 L1027.5 598.7 L1027.8 596.7 L1028.1 594.7 L1028.4 592.7 L1028.8 590.7 L1029.1 588.7 L1029.5 586.7 L1029.9 584.8 L1030.2 583.0 L1030.6 581.2 L1031.1 579.5 L1031.5 577.8 L1031.9 576.2 L1032.4 574.8 L1032.8 573.4 L1033.3 572.2 L1033.8 571.0 L1034.3 570.0 L1034.9 569.1 L1035.4 568.4 L1036.0 567.8 L1036.5 567.3 L1037.1 567.0 L1037.7 566.8 L1038.4 566.7 L1039.0 566.7 L1042.0 566.7 L1041.9 673.3 M1043.5 845.6 L1043.5 845.2 L1043.5 843.3 L1043.5 839.3 L1043.5 832.7 L1043.5 823.5 L1043.5 811.8 L1043.6 797.6 L1043.6 781.4 L1043.6 763.8 L1043.7 745.4 L1043.7 726.8 L1043.8 708.7 L1043.8 691.6 L1043.9 675.9 L1044.0 662.0 L1044.1 650.1 L1044.2 640.0 L1044.3 631.8 L1044.4 625.2 L1044.5 619.9 L1044.6 615.6 L1044.7 612.3 L1044.9 609.5 L1045.0 607.1 L1045.2 605.0 L1045.4 603.1 L1045.6 601.2 L1045.8 599.3 L1046.0 597.5 L1046.2 595.6 L1046.4 593.7 L1046.7 591.7 L1046.9 589.8 L1047.2 587.8 L1047.5 585.8 L1047.8 583.8 L1048.1 581.8 L1048.4 579.8 L1048.7 577.8 L1049.1 575.8 L1049.4 573.8 L1049.8 571.9 L1050.2 570.1 L1050.5 568.3 L1051.0 566.6 L1051.4 564.9 L1051.8 563.3 L1052.3 561.9 L1052.7 560.5 L1053.2 559.3 L1053.7 558.1 L1054.2 557.1 L1054.7 556.2 L1055.3 555.5 L1055.8 554.9 L1056.4 554.4 L1057.0 554.1 L1057.6 553.9 L1058.2 553.8 L1058.8 553.8 L1061.8 553.8 L1061.7 662.5 M1063.3 838.1 L1063.3 837.7 L1063.3 835.8 L1063.3 831.8 L1063.3 825.4 L1063.3 816.3 L1063.3 804.6 L1063.4 790.5 L1063.4 774.3 L1063.4 756.7 L1063.5 738.1 L1063.5 719.3 L1063.6 700.8 L1063.6 683.2 L1063.7 667.0 L1063.8 652.5 L1063.8 640.0 L1063.9 629.3 L1064.0 620.4 L1064.1 613.3 L1064.2 607.5 L1064.4 602.9 L1064.5 599.2 L1064.6 596.2 L1064.8 593.6 L1064.9 591.4 L1065.1 589.4 L1065.3 587.5 L1065.5 585.6 L1065.7 583.7 L1065.9 581.8 L1066.1 579.9 L1066.4 578.0 L1066.6 576.0 L1066.9 574.0 L1067.1 572.0 L1067.4 570.0 L1067.7 568.0 L1068.0 566.0 L1068.3 564.0 L1068.6 562.0 L1069.0 560.0 L1069.3 558.1 L1069.7 556.3 L1070.1 554.5 L1070.5 552.8 L1070.9 551.1 L1071.3 549.5 L1071.7 548.1 L1072.2 546.7 L1072.6 545.5 L1073.1 544.3 L1073.6 543.3 L1074.1 542.4 L1074.6 541.7 L1075.1 541.1 L1075.7 540.6 L1076.2 540.3 L1076.8 540.1 L1077.4 540.0 L1078.0 540.0 L1081.0 540.0 L1080.9 652.5"/>
<path stroke-width="4.4" d="M1082.5 829.8 L1082.5 829.4 L1082.5 827.5 L1082.5 823.5 L1082.5 817.0 L1082.5 807.8 L1082.5 796.0 L1082.6 781.7 L1082.6 765.4 L1082.6 747.5 L1082.7 728.7 L1082.7 709.5 L1082.8 690.7 L1082.8 672.8 L1082.9 656.2 L1083.0 641.4 L1083.0 628.4 L1083.1 617.4 L1083.2 608.3 L1083.3 600.8 L1083.4 594.9 L1083.6 590.1 L1083.7 586.2 L1083.8 583.1 L1084.0 580.5 L1084.1 578.2 L1084.3 576.1 L1084.5 574.2 L1084.7 572.3 L1084.9 570.4 L1085.1 568.5 L1085.3 566.6 L1085.5 564.7 L1085.8 562.7 L1086.0 560.7 L1086.3 558.7 L1086.5 556.7 L1086.8 554.7 L1087.1 552.7 L1087.4 550.7 L1087.8 548.7 L1088.1 546.7 L1088.4 544.8 L1088.8 543.0 L1089.2 541.2 L1089.6 539.5 L1090.0 537.8 L1090.4 536.2 L1090.8 534.8 L1091.2 533.4 L1091.7 532.2 L1092.2 531.0 L1092.6 530.0 L1093.1 529.1 L1093.6 528.4 L1094.2 527.8 L1094.7 527.3 L1095.3 527.0 L1095.8 526.8 L1096.4 526.7 L1097.0 526.7 L1100.0 526.7 L1099.9 641.5 M1101.5 820.6 L1101.5 820.2 L1101.5 818.3 L1101.5 814.2 L1101.5 807.7 L1101.5 798.4 L1101.5 786.5 L1101.6 772.2 L1101.6 755.7 L1101.6 737.6 L1101.7 718.6 L1101.7 699.1 L1101.8 680.0 L1101.8 661.8 L1101.9 644.9 L1101.9 629.7 L1102.0 616.4 L1102.1 605.0 L1102.2 595.6 L1102.3 587.8 L1102.4 581.6 L1102.5 576.7 L1102.7 572.7 L1102.8 569.5 L1102.9 566.8 L1103.1 564.4 L1103.3 562.3 L1103.4 560.3 L1103.6 558.4 L1103.8 556.5 L1104.0 554.6 L1104.2 552.7 L1104.5 550.8 L1104.7 548.8 L1105.0 546.8 L1105.2 544.8 L1105.5 542.8 L1105.8 540.8 L1106.1 538.8 L1106.4 536.8 L1106.7 534.8 L1107.0 532.8 L1107.4 530.9 L1107.7 529.1 L1108.1 527.3 L1108.5 525.6 L1108.9 523.9 L1109.3 522.3 L1109.7 520.9 L1110.1 519.5 L1110.6 518.3 L1111.0 517.1 L1111.5 516.1 L1112.0 515.2 L1112.5 514.5 L1113.0 513.9 L1113.5 513.4 L1114.1 513.1 L1114.6 512.9 L1115.2 512.8 L1115.8 512.8 L1118.8 512.8 L1118.7 629.2 M1120.3 812.3 L1120.3 811.9 L1120.3 809.9 L1120.3 805.7 L1120.3 798.9 L1120.3 789.3 L1120.3 777.0 L1120.4 762.1 L1120.4 745.1 L1120.4 726.5 L1120.5 706.8 L1120.5 686.8 L1120.6 667.2 L1120.6 648.5 L1120.7 631.3 L1120.8 615.8 L1120.8 602.3 L1120.9 590.9 L1121.0 581.3 L1121.1 573.6 L1121.2 567.4 L1121.4 562.5 L1121.5 558.5 L1121.6 555.3 L1121.8 552.7 L1121.9 550.4 L1122.1 548.3 L1122.3 546.3 L1122.5 544.4 L1122.7 542.5 L1122.9 540.6 L1123.1 538.7 L1123.3 536.8 L1123.6 534.8 L1123.8 532.8 L1124.1 530.8 L1124.3 528.8 L1124.6 526.8 L1124.9 524.8 L1125.2 522.8 L1125.6 520.8 L1125.9 518.8 L1126.2 516.9 L1126.6 515.1 L1127.0 513.3 L1127.4 511.6 L1127.8 509.9 L1128.2 508.3 L1128.6 506.9 L1129.0 505.5 L1129.5 504.3 L1130.0 503.1 L1130.4 502.1 L1130.9 501.2 L1131.4 500.5 L1132.0 499.9 L1132.5 499.4 L1133.1 499.1 L1133.6 498.9 L1134.2 498.8 L1134.8 498.8 L1137.8 498.8 L1137.7 615.5 M1139.3 803.1 L1139.3 802.7 L1139.3 800.7 L1139.3 796.4 L1139.3 789.4 L1139.3 779.6 L1139.3 767.0 L1139.4 751.8 L1139.4 734.5 L1139.4 715.4 L1139.5 695.3 L1139.5 674.9 L1139.6 654.9 L1139.6 635.8 L1139.7 618.2 L1139.8 602.4 L1139.8 588.6 L1139.9 576.9 L1140.0 567.2 L1140.1 559.4 L1140.2 553.1 L1140.4 548.0 L1140.5 544.1 L1140.6 540.8 L1140.8 538.1 L1140.9 535.8 L1141.1 533.7 L1141.3 531.7 L1141.5 529.8 L1141.7 527.9 L1141.9 526.0 L1142.1 524.1 L1142.3 522.2 L1142.6 520.2 L1142.8 518.2 L1143.1 516.2 L1143.3 514.2 L1143.6 512.2 L1143.9 510.2 L1144.2 508.2 L1144.6 506.2 L1144.9 504.2 L1145.2 502.3 L1145.6 500.5 L1146.0 498.7 L1146.4 497.0 L1146.8 495.3 L1147.2 493.7 L1147.6 492.3 L1148.0 490.9 L1148.5 489.7 L1149.0 488.5 L1149.4 487.5 L1149.9 486.6 L1150.4 485.9 L1151.0 485.3 L1151.5 484.8 L1152.1 484.5 L1152.6 484.3 L1153.2 484.2 L1153.8 484.1 L1156.8 484.1 L1156.7 605.3 M1158.3 794.0 L1158.3 793.6 L1158.3 791.7 L1158.3 787.6 L1158.3 781.0 L1158.3 771.6 L1158.3 759.5 L1158.4 744.9 L1158.4 728.1 L1158.4 709.5 L1158.5 689.8 L1158.5 669.5 L1158.5 649.5 L1158.6 630.1 L1158.7 612.0 L1158.7 595.5 L1158.8 580.9 L1158.9 568.4 L1159.0 557.7 L1159.1 549.0 L1159.2 541.8 L1159.3 536.1 L1159.4 531.5 L1159.5 527.8 L1159.7 524.7 L1159.8 522.1 L1160.0 519.8 L1160.1 517.7 L1160.3 515.7 L1160.5 513.8 L1160.7 511.9 L1160.9 509.9 L1161.1 508.0 L1161.3 506.0 L1161.6 504.0 L1161.8 502.0 L1162.1 500.0 L1162.3 498.0 L1162.6 496.0 L1162.9 494.0 L1163.2 492.0 L1163.5 490.0 L1163.8 488.1 L1164.2 486.3 L1164.5 484.5 L1164.9 482.8 L1165.2 481.1 L1165.6 479.5 L1166.0 478.1 L1166.4 476.7 L1166.9 475.5 L1167.3 474.3 L1167.7 473.3 L1168.2 472.4 L1168.7 471.7 L1169.2 471.1 L1169.7 470.6 L1170.2 470.3 L1170.7 470.1 L1171.2 470.0 L1171.8 469.9 L1174.8 469.9 L1174.7 592.5 M1176.3 784.5 L1176.3 784.1 L1176.3 782.1 L1176.3 778.0 L1176.3 771.2 L1176.3 761.7 L1176.3 749.4 L1176.4 734.5 L1176.4 717.3 L1176.4 698.4 L1176.5 678.3 L1176.5 657.7 L1176.5 637.2 L1176.6 617.5 L1176.7 599.0 L1176.7 582.2 L1176.8 567.4 L1176.9 554.6 L1177.0 543.8 L1177.1 534.9 L1177.2 527.6 L1177.3 521.8 L1177.4 517.1 L1177.5 513.4 L1177.7 510.3 L1177.8 507.7 L1178.0 505.3 L1178.1 503.2 L1178.3 501.2 L1178.5 499.3 L1178.7 497.4 L1178.9 495.4 L1179.1 493.5 L1179.3 491.5 L1179.6 489.5 L1179.8 487.5 L1180.1 485.5 L1180.3 483.5 L1180.6 481.5 L1180.9 479.5 L1181.2 477.5 L1181.5 475.5 L1181.8 473.6 L1182.2 471.8 L1182.5 470.0 L1182.9 468.3 L1183.2 466.6 L1183.6 465.0 L1184.0 463.6 L1184.4 462.2 L1184.9 461.0 L1185.3 459.8 L1185.7 458.8 L1186.2 457.9 L1186.7 457.2 L1187.2 456.6 L1187.7 456.1 L1188.2 455.8 L1188.7 455.6 L1189.2 455.5 L1189.8 455.4 L1192.8 455.4 L1192.7 581.3 M1194.3 774.0 L1194.3 773.6 L1194.3 771.6 L1194.3 767.3 L1194.3 760.3 L1194.3 750.5 L1194.3 737.8 L1194.4 722.5 L1194.4 704.9 L1194.4 685.5 L1194.5 664.9 L1194.5 643.8 L1194.5 623.0 L1194.6 602.9 L1194.7 584.2 L1194.7 567.2 L1194.8 552.3 L1194.9 539.4 L1195.0 528.6 L1195.1 519.7 L1195.2 512.5 L1195.3 506.8 L1195.4 502.2 L1195.5 498.5 L1195.7 495.4 L1195.8 492.9 L1196.0 490.6 L1196.2 488.5 L1196.3 486.5 L1196.5 484.6 L1196.7 482.6 L1196.9 480.7 L1197.1 478.8 L1197.4 476.8 L1197.6 474.8 L1197.9 472.8 L1198.1 470.8 L1198.4 468.8 L1198.7 466.8 L1199.0 464.8 L1199.3 462.8 L1199.6 460.8 L1199.9 458.9 L1200.3 457.1 L1200.6 455.3 L1201.0 453.6 L1201.4 451.9 L1201.7 450.3 L1202.1 448.9 L1202.6 447.5 L1203.0 446.3 L1203.4 445.1 L1203.9 444.1 L1204.3 443.2 L1204.8 442.5 L1205.3 441.9 L1205.8 441.4 L1206.4 441.1 L1206.9 440.9 L1207.4 440.8 L1208.0 440.8 L1211.0 440.8 L1210.9 568.8 M1212.5 764.0 L1212.5 763.6 L1212.5 761.5 L1212.5 757.1 L1212.5 749.9 L1212.5 739.8 L1212.5 726.8 L1212.6 711.1 L1212.6 693.0 L1212.6 673.0 L1212.7 651.9 L1212.7 630.4 L1212.7 609.0 L1212.8 588.5 L1212.9 569.4 L1212.9 552.2 L1213.0 536.9 L1213.1 523.9 L1213.2 513.0 L1213.3 504.0 L1213.4 496.7 L1213.5 491.0 L1213.6 486.4 L1213.8 482.6 L1213.9 479.6 L1214.0 477.0 L1214.2 474.8 L1214.4 472.7 L1214.6 470.7 L1214.7 468.8 L1214.9 466.8 L1215.1 464.9 L1215.4 463.0 L1215.6 461.0 L1215.8 459.0 L1216.1 457.0 L1216.3 455.0 L1216.6 453.0 L1216.9 451.0 L1217.2 449.0 L1217.5 447.0 L1217.8 445.0 L1218.2 443.1 L1218.5 441.3 L1218.9 439.5 L1219.2 437.8 L1219.6 436.1 L1220.0 434.5 L1220.4 433.1 L1220.8 431.7 L1221.2 430.5 L1221.7 429.3 L1222.1 428.3 L1222.6 427.4 L1223.1 426.7 L1223.6 426.1 L1224.1 425.6 L1224.6 425.3 L1225.2 425.1 L1225.7 425.0 L1226.3 424.9 L1229.3 424.9 L1229.2 556.3 M1230.8 752.8 L1230.8 752.4 L1230.8 750.4 L1230.8 746.2 L1230.8 739.3 L1230.8 729.6 L1230.8 717.1 L1230.9 701.9 L1230.9 684.3 L1230.9 664.9 L1230.9 644.2 L1231.0 622.9 L1231.0 601.6 L1231.1 580.9 L1231.1 561.5 L1231.2 543.7 L1231.3 527.9 L1231.4 514.1 L1231.4 502.3 L1231.5 492.6 L1231.6 484.6 L1231.7 478.2 L1231.9 473.0 L1232.0 468.9 L1232.1 465.5 L1232.3 462.6 L1232.4 460.1 L1232.6 457.9 L1232.7 455.8 L1232.9 453.9 L1233.1 451.9 L1233.3 449.9 L1233.5 448.0 L1233.7 446.0 L1233.9 444.0 L1234.2 442.0 L1234.4 440.0 L1234.7 438.0 L1234.9 436.0 L1235.2 434.0 L1235.5 432.0 L1235.8 430.0 L1236.1 428.1 L1236.5 426.3 L1236.8 424.5 L1237.1 422.8 L1237.5 421.1 L1237.9 419.5 L1238.2 418.1 L1238.6 416.7 L1239.0 415.5 L1239.5 414.3 L1239.9 413.3 L1240.3 412.4 L1240.8 411.7 L1241.3 411.1 L1241.7 410.6 L1242.2 410.3 L1242.7 410.1 L1243.3 410.0 L1243.8 409.9 L1246.8 409.9 L1246.7 543.8 M1248.3 741.1 L1248.3 740.7 L1248.3 738.6 L1248.3 734.1 L1248.3 726.9 L1248.3 716.8 L1248.3 703.6 L1248.4 687.7 L1248.4 669.4 L1248.4 649.2 L1248.5 627.8 L1248.5 605.8 L1248.5 583.9 L1248.6 562.9 L1248.7 543.3 L1248.7 525.4 L1248.8 509.6 L1248.9 496.0 L1249.0 484.5 L1249.1 475.1 L1249.2 467.4 L1249.3 461.3 L1249.4 456.4 L1249.5 452.5 L1249.7 449.3 L1249.8 446.6 L1250.0 444.2 L1250.1 442.1 L1250.3 440.1 L1250.5 438.1 L1250.7 436.2 L1250.9 434.2 L1251.1 432.3 L1251.3 430.3 L1251.6 428.3 L1251.8 426.3 L1252.1 424.3 L1252.3 422.3 L1252.6 420.3 L1252.9 418.3 L1253.2 416.3 L1253.5 414.3 L1253.8 412.4 L1254.2 410.6 L1254.5 408.8 L1254.9 407.1 L1255.2 405.4 L1255.6 403.8 L1256.0 402.4 L1256.4 401.0 L1256.9 399.8 L1257.3 398.6 L1257.7 397.6 L1258.2 396.7 L1258.7 396.0 L1259.2 395.4 L1259.7 394.9 L1260.2 394.6 L1260.7 394.4 L1261.2 394.3 L1261.8 394.2 L1264.8 394.2 L1264.7 530.0 M1266.3 728.8 L1266.3 728.4 L1266.3 726.4 L1266.3 722.3 L1266.3 715.5 L1266.3 705.9 L1266.3 693.5 L1266.4 678.4 L1266.4 660.9 L1266.4 641.5 L1266.4 620.7 L1266.5 599.2 L1266.5 577.6 L1266.6 556.6 L1266.6 536.7 L1266.7 518.3 L1266.8 501.8 L1266.8 487.3 L1266.9 474.8 L1267.0 464.4 L1267.1 455.8 L1267.2 448.9 L1267.3 443.2 L1267.4 438.7 L1267.6 435.0 L1267.7 431.9 L1267.8 429.3 L1268.0 426.9 L1268.2 424.8 L1268.3 422.7 L1268.5 420.7 L1268.7 418.8 L1268.9 416.8 L1269.1 414.8 L1269.3 412.8 L1269.5 410.8 L1269.8 408.8 L1270.0 406.8 L1270.3 404.8 L1270.6 402.8 L1270.8 400.8 L1271.1 398.8 L1271.4 396.9 L1271.7 395.1 L1272.1 393.3 L1272.4 391.6 L1272.7 389.9 L1273.1 388.3 L1273.5 386.9 L1273.8 385.5 L1274.2 384.3 L1274.6 383.1 L1275.0 382.1 L1275.5 381.2 L1275.9 380.5 L1276.4 379.9 L1276.8 379.4 L1277.3 379.1 L1277.8 378.9 L1278.3 378.8 L1278.8 378.8 L1281.8 378.8 L1281.7 516.3 M1283.3 715.8 L1283.3 715.4 L1283.3 713.4 L1283.3 709.1 L1283.3 702.1 L1283.3 692.2 L1283.3 679.4 L1283.4 663.9 L1283.4 645.9 L1283.4 626.0 L1283.4 604.7 L1283.5 582.7 L1283.5 560.6 L1283.6 539.2 L1283.6 519.0 L1283.7 500.4 L1283.8 483.7 L1283.8 469.2 L1283.9 456.7 L1284.0 446.4 L1284.1 437.8 L1284.2 430.9 L1284.3 425.4 L1284.5 420.9 L1284.6 417.3 L1284.7 414.3 L1284.9 411.7 L1285.0 409.4 L1285.2 407.2 L1285.4 405.2 L1285.5 403.2 L1285.7 401.3 L1285.9 399.3 L1286.1 397.3 L1286.4 395.3 L1286.6 393.3 L1286.8 391.3 L1287.1 389.3 L1287.4 387.3 L1287.6 385.3 L1287.9 383.3 L1288.2 381.3 L1288.5 379.4 L1288.8 377.6 L1289.1 375.8 L1289.5 374.1 L1289.8 372.4 L1290.2 370.8 L1290.6 369.4 L1291.0 368.0 L1291.4 366.8 L1291.8 365.6 L1292.2 364.6 L1292.6 363.7 L1293.1 363.0 L1293.5 362.4 L1294.0 361.9 L1294.5 361.6 L1295.0 361.4 L1295.5 361.3 L1296.0 361.2 L1299.0 361.2 L1298.9 502.6 M1300.5 701.8 L1300.5 701.4 L1300.5 699.4 L1300.5 695.1 L1300.5 688.1 L1300.5 678.3 L1300.5 665.6 L1300.6 650.1 L1300.6 632.1 L1300.6 612.2 L1300.6 590.9 L1300.7 568.8 L1300.7 546.7 L1300.8 525.1 L1300.8 504.7 L1300.9 485.8 L1301.0 468.9 L1301.0 454.0 L1301.1 441.3 L1301.2 430.6 L1301.3 421.9 L1301.4 414.7 L1301.5 409.0 L1301.6 404.4 L1301.8 400.6 L1301.9 397.5 L1302.0 394.8 L1302.2 392.5 L1302.4 390.3 L1302.5 388.2 L1302.7 386.2 L1302.9 384.3 L1303.1 382.3 L1303.3 380.3 L1303.5 378.3 L1303.7 376.3 L1304.0 374.3 L1304.2 372.3 L1304.5 370.3 L1304.8 368.3 L1305.0 366.3 L1305.3 364.3 L1305.6 362.4 L1305.9 360.6 L1306.3 358.8 L1306.6 357.1 L1306.9 355.4 L1307.3 353.8 L1307.7 352.4 L1308.0 351.0 L1308.4 349.8 L1308.8 348.6 L1309.2 347.6 L1309.7 346.7 L1310.1 346.0 L1310.6 345.4 L1311.0 344.9 L1311.5 344.6 L1312.0 344.4 L1312.5 344.3 L1313.0 344.2 L1316.0 344.2 L1315.9 487.6 M1317.5 687.8 L1317.5 687.4 L1317.5 685.4 L1317.5 681.1 L1317.5 674.2 L1317.5 664.4 L1317.5 651.7 L1317.6 636.2 L1317.6 618.2 L1317.6 598.3 L1317.6 576.9 L1317.7 554.8 L1317.7 532.5 L1317.8 510.7 L1317.8 490.0 L1317.9 470.9 L1318.0 453.6 L1318.0 438.5 L1318.1 425.4 L1318.2 414.5 L1318.3 405.4 L1318.4 398.0 L1318.5 392.1 L1318.6 387.3 L1318.7 383.4 L1318.9 380.1 L1319.0 377.4 L1319.2 375.0 L1319.3 372.8 L1319.5 370.7 L1319.7 368.7 L1319.9 366.7 L1320.1 364.7 L1320.3 362.7 L1320.5 360.7 L1320.7 358.7 L1320.9 356.7 L1321.2 354.7 L1321.4 352.7 L1321.7 350.7 L1322.0 348.7 L1322.2 346.7 L1322.5 344.8 L1322.8 343.0 L1323.2 341.2 L1323.5 339.5 L1323.8 337.8 L1324.2 336.2 L1324.5 334.8 L1324.9 333.4 L1325.3 332.2 L1325.7 331.0 L1326.1 330.0 L1326.5 329.1 L1327.0 328.4 L1327.4 327.8 L1327.9 327.3 L1328.3 327.0 L1328.8 326.8 L1329.3 326.7 L1329.8 326.6 L1332.8 326.6 L1332.7 471.4 M1334.3 672.8 L1334.3 672.4 L1334.3 670.3 L1334.3 666.0 L1334.3 658.9 L1334.3 648.9 L1334.3 636.0 L1334.4 620.2 L1334.4 602.0 L1334.4 581.7 L1334.4 560.0 L1334.5 537.5 L1334.5 514.9 L1334.6 492.9 L1334.6 472.0 L1334.7 452.6 L1334.8 435.3 L1334.8 420.0 L1334.9 406.9 L1335.0 395.9 L1335.1 386.9 L1335.2 379.5 L1335.3 373.6 L1335.4 368.8 L1335.6 365.0 L1335.7 361.8 L1335.8 359.0 L1336.0 356.6 L1336.1 354.4 L1336.3 352.4 L1336.5 350.4 L1336.7 348.4 L1336.9 346.4 L1337.1 344.4 L1337.3 342.4 L1337.5 340.4 L1337.8 338.4 L1338.0 336.4 L1338.3 334.4 L1338.5 332.4 L1338.8 330.4 L1339.1 328.4 L1339.4 326.5 L1339.7 324.7 L1340.0 322.9 L1340.3 321.2 L1340.7 319.5 L1341.0 317.9 L1341.4 316.5 L1341.8 315.1 L1342.2 313.9 L1342.6 312.7 L1343.0 311.7 L1343.4 310.8 L1343.8 310.1 L1344.3 309.5 L1344.7 309.0 L1345.2 308.7 L1345.7 308.5 L1346.2 308.4 L1346.7 308.3 L1349.7 308.3 L1349.6 455.1 M1351.2 656.8 L1351.2 656.4 L1351.2 654.4 L1351.2 650.2 L1351.2 643.4 L1351.2 633.8 L1351.2 621.3 L1351.3 606.0 L1351.3 588.2 L1351.3 568.4 L1351.3 547.1 L1351.4 524.9 L1351.4 502.4 L1351.5 480.4 L1351.5 459.3 L1351.6 439.6 L1351.6 421.8 L1351.7 405.9 L1351.8 392.2 L1351.9 380.5 L1352.0 370.8 L1352.1 362.8 L1352.2 356.3 L1352.3 351.1 L1352.4 346.8 L1352.5 343.3 L1352.7 340.4 L1352.8 337.8 L1353.0 335.5 L1353.1 333.3 L1353.3 331.2 L1353.5 329.2 L1353.7 327.2 L1353.8 325.2 L1354.1 323.2 L1354.3 321.2 L1354.5 319.2 L1354.7 317.2 L1355.0 315.2 L1355.2 313.2 L1355.5 311.2 L1355.8 309.2 L1356.0 307.3 L1356.3 305.5 L1356.6 303.7 L1356.9 302.0 L1357.3 300.3 L1357.6 298.7 L1358.0 297.3 L1358.3 295.9 L1358.7 294.7 L1359.1 293.5 L1359.5 292.5 L1359.9 291.6 L1360.3 290.9 L1360.7 290.3 L1361.1 289.8 L1361.6 289.5 L1362.0 289.3 L1362.5 289.2 L1363.0 289.1 L1366.0 289.1 L1365.9 437.6 M1367.5 640.6 L1367.5 640.2 L1367.5 638.2 L1367.5 634.0 L1367.5 627.2 L1367.5 617.5 L1367.5 605.0 L1367.6 589.7 L1367.6 571.8 L1367.6 551.9 L1367.6 530.5 L1367.7 508.2 L1367.7 485.6 L1367.8 463.3 L1367.8 442.0 L1367.9 422.2 L1367.9 404.1 L1368.0 388.0 L1368.1 374.1 L1368.2 362.2 L1368.3 352.3 L1368.3 344.1 L1368.5 337.5 L1368.6 332.1 L1368.7 327.8 L1368.8 324.2 L1368.9 321.2 L1369.1 318.6 L1369.2 316.2 L1369.4 314.0 L1369.6 312.0 L1369.7 309.9 L1369.9 307.9 L1370.1 305.9 L1370.3 303.9 L1370.5 301.9 L1370.8 299.9 L1371.0 297.9 L1371.2 295.9 L1371.5 293.9 L1371.7 291.9 L1372.0 289.9 L1372.3 288.0 L1372.6 286.2 L1372.9 284.4 L1373.2 282.7 L1373.5 281.0 L1373.9 279.4 L1374.2 278.0 L1374.6 276.6 L1374.9 275.4 L1375.3 274.2 L1375.7 273.2 L1376.1 272.3 L1376.5 271.6 L1376.9 271.0 L1377.3 270.5 L1377.8 270.2 L1378.2 270.0 L1378.7 269.9 L1379.2 269.8 L1382.2 269.8 L1382.1 418.9 M1383.7 623.1 L1383.7 622.7 L1383.7 620.6 L1383.7 616.1 L1383.7 608.9 L1383.7 598.7 L1383.7 585.5 L1383.8 569.3 L1383.8 550.7 L1383.8 529.9 L1383.8 507.6 L1383.9 484.6 L1383.9 461.4 L1384.0 438.7 L1384.0 417.2 L1384.1 397.3 L1384.2 379.4 L1384.2 363.6 L1384.3 350.1 L1384.4 338.7 L1384.5 329.3 L1384.6 321.6 L1384.7 315.5 L1384.8 310.6 L1384.9 306.6 L1385.1 303.3 L1385.2 300.5 L1385.4 298.0 L1385.5 295.8 L1385.7 293.7 L1385.9 291.7 L1386.1 289.7 L1386.3 287.7 L1386.5 285.7 L1386.7 283.7 L1386.9 281.7 L1387.1 279.7 L1387.4 277.7 L1387.6 275.7 L1387.9 273.7 L1388.2 271.7 L1388.4 269.7 L1388.7 267.8 L1389.0 266.0 L1389.4 264.2 L1389.7 262.5 L1390.0 260.8 L1390.4 259.2 L1390.7 257.8 L1391.1 256.4 L1391.5 255.2 L1391.9 254.0 L1392.3 253.0 L1392.7 252.1 L1393.2 251.4 L1393.6 250.8 L1394.1 250.3 L1394.5 250.0 L1395.0 249.8 L1395.5 249.7 L1396.0 249.6 L1399.0 249.6 L1398.9 400.1 M1400.5 602.6 L1400.5 602.2 L1400.5 600.2 L1400.5 596.0 L1400.5 589.1 L1400.5 579.3 L1400.5 566.6 L1400.6 551.2 L1400.6 533.2 L1400.6 513.1 L1400.6 491.4 L1400.7 468.9 L1400.7 446.1 L1400.8 423.6 L1400.8 402.1 L1400.9 382.1 L1400.9 363.8 L1401.0 347.6 L1401.1 333.5 L1401.2 321.5 L1401.3 311.5 L1401.3 303.3 L1401.5 296.6 L1401.6 291.2 L1401.7 286.8 L1401.8 283.2 L1401.9 280.2 L1402.1 277.6 L1402.2 275.2 L1402.4 273.1 L1402.6 271.0 L1402.7 268.9 L1402.9 266.9 L1403.1 264.9 L1403.3 262.9 L1403.5 260.9 L1403.8 258.9 L1404.0 256.9 L1404.2 254.9 L1404.5 252.9 L1404.7 250.9 L1405.0 248.9 L1405.3 247.0 L1405.6 245.2 L1405.9 243.4 L1406.2 241.7 L1406.5 240.0 L1406.9 238.4 L1407.2 237.0 L1407.6 235.6 L1407.9 234.4 L1408.3 233.2 L1408.7 232.2 L1409.1 231.3 L1409.5 230.6 L1409.9 230.0 L1410.3 229.5 L1410.8 229.2 L1411.2 229.0 L1411.7 228.9 L1412.2 228.8 L1415.2 228.8 L1415.1 378.9 M1416.7 582.8 L1416.7 582.4 L1416.7 580.5 L1416.7 576.4 L1416.7 569.8 L1416.7 560.4 L1416.7 548.2 L1416.8 533.2 L1416.8 515.7 L1416.8 496.2 L1416.8 475.0 L1416.9 452.8 L1416.9 430.2 L1416.9 407.8 L1417.0 386.1 L1417.0 365.8 L1417.1 347.0 L1417.2 330.2 L1417.2 315.5 L1417.3 302.8 L1417.4 292.1 L1417.5 283.2 L1417.6 275.9 L1417.7 269.9 L1417.8 265.0 L1417.9 261.1 L1418.1 257.7 L1418.2 254.9 L1418.4 252.4 L1418.5 250.1 L1418.7 247.9 L1418.8 245.8 L1419.0 243.8 L1419.2 241.8 L1419.4 239.7 L1419.6 237.7 L1419.8 235.7 L1420.0 233.7 L1420.2 231.7 L1420.5 229.7 L1420.7 227.7 L1421.0 225.7 L1421.3 223.8 L1421.5 222.0 L1421.8 220.2 L1422.1 218.5 L1422.4 216.8 L1422.7 215.2 L1423.1 213.8 L1423.4 212.4 L1423.7 211.2 L1424.1 210.0 L1424.5 209.0 L1424.8 208.1 L1425.2 207.4 L1425.6 206.8 L1426.0 206.3 L1426.5 206.0 L1426.9 205.8 L1427.3 205.7 L1427.8 205.7 L1430.8 205.6 L1430.7 356.4 M1432.3 559.8 L1432.3 559.4 L1432.3 557.4 L1432.3 553.2 L1432.3 546.3 L1432.3 536.5 L1432.3 523.9 L1432.4 508.4 L1432.4 490.3 L1432.4 470.2 L1432.4 448.4 L1432.5 425.7 L1432.5 402.7 L1432.6 380.0 L1432.6 358.2 L1432.7 337.8 L1432.7 319.2 L1432.8 302.6 L1432.9 288.1 L1432.9 275.8 L1433.0 265.4 L1433.1 256.9 L1433.2 249.9 L1433.3 244.3 L1433.5 239.8 L1433.6 236.0 L1433.7 232.9 L1433.9 230.2 L1434.0 227.7 L1434.2 225.5 L1434.3 223.4 L1434.5 221.4 L1434.7 219.4 L1434.9 217.3 L1435.1 215.3 L1435.3 213.3 L1435.5 211.3 L1435.7 209.3 L1436.0 207.3 L1436.2 205.3 L1436.5 203.3 L1436.7 201.3 L1437.0 199.4 L1437.3 197.6 L1437.6 195.8 L1437.9 194.1 L1438.2 192.4 L1438.5 190.8 L1438.9 189.4 L1439.2 188.0 L1439.6 186.8 L1440.0 185.6 L1440.3 184.6 L1440.7 183.7 L1441.1 183.0 L1441.6 182.4 L1442.0 181.9 L1442.4 181.6 L1442.9 181.4 L1443.3 181.3 L1443.8 181.2 L1446.8 181.2 L1446.7 332.6 M1448.3 535.5 L1448.3 535.1 L1448.3 533.3 L1448.3 529.3 L1448.3 522.9 L1448.3 513.8 L1448.3 501.9 L1448.3 487.3 L1448.4 470.2 L1448.4 451.0 L1448.4 430.1 L1448.5 408.1 L1448.5 385.6 L1448.5 363.2 L1448.6 341.4 L1448.6 320.7 L1448.7 301.6 L1448.8 284.2 L1448.8 268.8 L1448.9 255.5 L1449.0 244.1 L1449.1 234.5 L1449.2 226.6 L1449.3 220.1 L1449.4 214.8 L1449.5 210.5 L1449.6 206.8 L1449.7 203.7 L1449.9 201.0 L1450.0 198.6 L1450.2 196.4 L1450.3 194.2 L1450.5 192.1 L1450.7 190.1 L1450.9 188.1 L1451.1 186.0 L1451.3 184.0 L1451.5 182.0 L1451.7 180.0 L1451.9 178.0 L1452.1 176.0 L1452.4 174.0 L1452.6 172.1 L1452.9 170.3 L1453.2 168.5 L1453.5 166.8 L1453.8 165.1 L1454.1 163.5 L1454.4 162.1 L1454.7 160.7 L1455.0 159.5 L1455.4 158.3 L1455.7 157.3 L1456.1 156.4 L1456.4 155.7 L1456.8 155.1 L1457.2 154.6 L1457.6 154.3 L1458.0 154.1 L1458.5 154.0 L1458.9 154.0 L1461.9 153.9 L1461.8 306.6 M1463.4 507.4 L1463.4 506.9 L1463.4 504.8 L1463.4 500.5 L1463.4 493.4 L1463.4 483.4 L1463.4 470.5 L1463.5 454.6 L1463.5 436.1 L1463.5 415.5 L1463.5 393.3 L1463.6 370.1 L1463.6 346.6 L1463.7 323.5 L1463.7 301.3 L1463.8 280.6 L1463.8 261.7 L1463.9 244.9 L1464.0 230.3 L1464.1 217.9 L1464.1 207.5 L1464.2 199.0 L1464.3 192.0 L1464.5 186.4 L1464.6 181.8 L1464.7 178.1 L1464.8 175.0 L1465.0 172.3 L1465.1 169.9 L1465.3 167.7 L1465.5 165.6 L1465.6 163.6 L1465.8 161.5 L1466.0 159.5 L1466.2 157.5 L1466.4 155.5 L1466.6 153.5 L1466.9 151.5 L1467.1 149.5 L1467.4 147.5 L1467.6 145.5 L1467.9 143.5 L1468.2 141.6 L1468.4 139.8 L1468.7 138.0 L1469.1 136.3 L1469.4 134.6 L1469.7 133.0 L1470.0 131.6 L1470.4 130.2 L1470.8 129.0 L1471.1 127.8 L1471.5 126.8 L1471.9 125.9 L1472.3 125.2 L1472.7 124.6 L1473.2 124.1 L1473.6 123.8 L1474.1 123.6 L1474.5 123.5 L1475.0 123.5 L1478.0 123.5 L1477.9 279.2 M1479.5 478.7 L1479.5 478.2 L1479.5 476.2 L1479.5 471.9 L1479.5 465.0 L1479.5 455.2 L1479.5 442.5 L1479.6 426.8 L1479.6 408.6 L1479.6 388.3 L1479.6 366.2 L1479.7 343.1 L1479.7 319.7 L1479.7 296.4 L1479.8 274.0 L1479.8 253.0 L1479.9 233.7 L1480.0 216.4 L1480.1 201.2 L1480.1 188.2 L1480.2 177.3 L1480.3 168.2 L1480.4 160.8 L1480.5 154.7 L1480.6 149.9 L1480.8 145.8 L1480.9 142.5 L1481.0 139.7 L1481.2 137.1 L1481.3 134.9 L1481.5 132.7 L1481.6 130.6 L1481.8 128.6 L1482.0 126.6 L1482.2 124.5 L1482.4 122.5 L1482.6 120.5 L1482.8 118.5 L1483.1 116.5 L1483.3 114.5 L1483.6 112.5 L1483.8 110.5 L1484.1 108.6 L1484.4 106.8 L1484.7 105.0 L1485.0 103.3 L1485.3 101.6 L1485.6 100.0 L1485.9 98.6 L1486.3 97.2 L1486.6 96.0 L1487.0 94.8 L1487.3 93.8 L1487.7 92.9 L1488.1 92.2 L1488.5 91.6 L1488.9 91.1 L1489.4 90.8 L1489.8 90.6 L1490.2 90.5 L1490.7 90.5 L1493.7 90.5 L1493.6 246.6 M1495.2 445.5 L1495.2 445.0 L1495.2 443.0 L1495.2 438.9 L1495.2 432.1 L1495.2 422.4 L1495.2 409.9 L1495.3 394.5 L1495.3 376.5 L1495.3 356.3 L1495.3 334.5 L1495.4 311.5 L1495.4 288.1 L1495.4 264.8 L1495.5 242.3 L1495.5 221.0 L1495.6 201.4 L1495.7 183.8 L1495.7 168.2 L1495.8 154.8 L1495.9 143.5 L1496.0 134.0 L1496.1 126.2 L1496.2 119.9 L1496.3 114.7 L1496.4 110.5 L1496.5 107.0 L1496.7 104.0 L1496.8 101.4 L1497.0 99.0 L1497.1 96.8 L1497.3 94.7 L1497.5 92.6 L1497.6 90.6 L1497.8 88.5 L1498.0 86.5 L1498.2 84.5 L1498.5 82.5 L1498.7 80.5 L1498.9 78.5 L1499.2 76.5 L1499.4 74.5 L1499.7 72.6 L1499.9 70.8 L1500.2 69.0 L1500.5 67.3 L1500.8 65.6 L1501.1 64.0 L1501.4 62.6 L1501.8 61.2 L1502.1 60.0 L1502.5 58.8 L1502.8 57.8 L1503.2 56.9 L1503.6 56.2 L1504.0 55.6 L1504.4 55.1 L1504.8 54.8 L1505.2 54.6 L1505.7 54.5 L1506.1 54.5 L1509.1 54.5 L1509.0 210.6 M1510.6 407.7 L1510.6 407.2 L1510.6 405.1 L1510.6 400.8 L1510.6 393.7 L1510.6 383.7 L1510.6 370.6 L1510.7 354.6 L1510.7 336.0 L1510.7 315.2 L1510.7 292.7 L1510.8 269.1 L1510.8 245.2 L1510.8 221.6 L1510.9 198.8 L1511.0 177.5 L1511.0 157.9 L1511.1 140.5 L1511.2 125.2 L1511.2 112.1 L1511.3 101.1 L1511.4 92.0 L1511.5 84.6 L1511.6 78.6 L1511.7 73.7 L1511.9 69.7 L1512.0 66.4 L1512.1 63.6 L1512.3 61.1 L1512.4 58.8 L1512.6 56.7 L1512.8 54.6 L1512.9 52.6 L1513.1 50.6 L1513.3 48.5 L1513.5 46.5 L1513.8 44.5 L1514.0 42.5 L1514.2 40.5 L1514.4 38.5 L1514.7 36.5 L1515.0 34.5 L1515.2 32.6 L1515.5 30.8 L1515.8 29.0 L1516.1 27.3 L1516.4 25.6 L1516.7 24.0 L1517.1 22.6 L1517.4 21.2 L1517.8 20.0 L1518.1 18.8 L1518.5 17.8 L1518.9 16.9 L1519.3 16.2 L1519.7 15.6 L1520.1 15.1 L1520.5 14.8 L1521.0 14.6 L1521.4 14.5 L1521.9 14.5 L1524.9 14.4 L1524.8 169.2 M1526.4 363.9 L1526.4 363.4 L1526.4 361.3 L1526.4 356.8 L1526.4 349.6 L1526.4 339.4 L1526.4 326.1 L1526.5 309.9 L1526.5 291.0 L1526.5 269.9 L1526.5 247.1 L1526.6 223.4 L1526.6 199.4 L1526.7 175.7 L1526.7 153.0 L1526.8 131.9 L1526.8 112.6 L1526.9 95.4 L1527.0 80.5 L1527.1 67.7 L1527.1 57.1 L1527.2 48.4 L1527.3 41.3 L1527.5 35.6 L1527.6 31.0 L1527.7 27.2 L1527.8 24.1 L1528.0 21.3 L1528.1 18.9 L1528.3 16.7 L1528.5 14.6 L1528.6 12.6 L1528.8 10.5 L1529.0 8.5 L1529.2 6.5 L1529.4 4.5 L1529.6 2.5 L1529.9 0.5 L1530.1 -1.5 L1530.4 -3.5 L1530.6 -5.5 L1530.9 -7.5 L1531.2 -9.4 L1531.4 -11.2 L1531.7 -13.0 L1532.1 -14.7 L1532.4 -16.4 L1532.7 -18.0 L1533.0 -19.4 L1533.4 -20.8 L1533.8 -22.0 L1534.1 -23.2 L1534.5 -24.2 L1534.9 -25.1 L1535.3 -25.8 L1535.7 -26.4 L1536.2 -26.9 L1536.6 -27.2 L1537.1 -27.4 L1537.5 -27.5 L1538.0 -27.5 L1541.0 -27.6 L1540.9 122.5"/>
<path stroke-width="5.2" d="M309.5 1032.5 L309.5 1036.5 L311.0 1049.8 M332.8 1023.0 L332.8 1027.0 L334.3 1044.5 M356.1 1008.1 L356.1 1012.1 L357.6 1037.4 M380.5 993.8 L380.5 997.8 L382.0 1029.4 M404.9 979.5 L404.9 983.5 L406.4 1023.1 M430.2 965.3 L430.2 969.3 L431.7 1016.8 M455.5 951.5 L455.5 955.5 L457.0 1009.2 M481.0 937.8 L481.0 941.8 L482.5 1003.1 M505.7 924.3 L505.7 928.3 L507.2 996.5 M530.8 911.8 L530.8 915.8 L532.2 990.1 M555.9 898.5 L555.9 902.5 L557.2 984.5 M580.0 885.2 L580.0 889.2 L581.3 978.1 M605.0 871.8 L605.0 875.8 L606.2 972.3 M629.2 860.2 L629.2 864.2 L630.3 966.5 M653.5 849.3 L653.5 853.3 L654.5 960.6 M676.9 840.2 L676.9 844.2 L677.8 954.5 M700.4 830.2 L700.4 834.2 L701.3 949.0 M723.7 821.0 L723.7 825.0 L724.5 943.1 M746.8 811.0 L746.8 815.0 L747.5 936.9 M769.1 801.0 L769.1 805.0 L769.7 930.6 M792.0 791.0 L792.0 795.0 L792.5 925.6 M814.0 781.8 L814.0 785.8 L814.5 919.8 M835.9 771.3 L835.9 775.3 L836.3 914.0 M857.4 761.8 L857.4 765.8 L857.7 907.8 M879.3 753.0 L879.3 757.0 L879.5 901.1 M900.2 741.0 L900.2 745.0 L900.3 894.8 M921.2 731.0 L921.2 735.0 L921.3 888.6 M942.3 721.0 L942.3 725.0 L942.3 881.8 M963.4 711.0 L963.4 715.0 L963.3 875.1 M983.7 701.0 L983.7 705.0 L983.5 868.1"/>
<path stroke-width="3.6" d="M1003.5 691.0 L1003.5 695.0 L1003.3 861.5 M1023.7 680.2 L1023.7 684.2 L1023.5 853.1 M1043.7 669.3 L1043.7 673.3 L1043.5 845.6 M1063.5 658.5 L1063.5 662.5 L1063.3 838.1 M1082.7 648.5 L1082.7 652.5 L1082.5 829.8 M1101.7 637.5 L1101.7 641.5 L1101.5 820.6 M1120.5 625.2 L1120.5 629.2 L1120.3 812.3 M1139.5 611.5 L1139.5 615.5 L1139.3 803.1 M1158.5 601.3 L1158.5 605.3 L1158.3 794.0 M1176.5 588.5 L1176.5 592.5 L1176.3 784.5 M1194.5 577.3 L1194.5 581.3 L1194.3 774.0 M1212.7 564.8 L1212.7 568.8 L1212.5 764.0 M1231.0 552.3 L1231.0 556.3 L1230.8 752.8 M1248.5 539.8 L1248.5 543.8 L1248.3 741.1 M1266.5 526.0 L1266.5 530.0 L1266.3 728.8 M1283.5 512.3 L1283.5 516.3 L1283.3 715.8 M1300.7 498.6 L1300.7 502.6 L1300.5 701.8 M1317.7 483.6 L1317.7 487.6 L1317.5 687.8 M1334.5 467.4 L1334.5 471.4 L1334.3 672.8 M1351.4 451.1 L1351.4 455.1 L1351.2 656.8 M1367.7 433.6 L1367.7 437.6 L1367.5 640.6 M1383.9 414.9 L1383.9 418.9 L1383.7 623.1 M1400.7 396.1 L1400.7 400.1 L1400.5 602.6 M1416.9 374.9 L1416.9 378.9 L1416.7 582.8 M1432.5 352.4 L1432.5 356.4 L1432.3 559.8 M1448.5 328.6 L1448.5 332.6 L1448.3 535.5 M1463.6 302.6 L1463.6 306.6 L1463.4 507.4 M1479.7 275.2 L1479.7 279.2 L1479.5 478.7 M1495.4 242.6 L1495.4 246.6 L1495.2 445.5 M1510.8 206.6 L1510.8 210.6 L1510.6 407.7 M1526.6 165.2 L1526.6 169.2 L1526.4 363.9 M1542.7 118.5 L1542.7 122.5 L1542.5 311.9"/>
<path stroke-width="4.9" stroke-dasharray="0 5.1" d="M1003.5 691.0 L1003.5 695.0 L1003.3 861.5 M1023.7 680.2 L1023.7 684.2 L1023.5 853.1 M1043.7 669.3 L1043.7 673.3 L1043.5 845.6 M1063.5 658.5 L1063.5 662.5 L1063.3 838.1 M1082.7 648.5 L1082.7 652.5 L1082.5 829.8 M1101.7 637.5 L1101.7 641.5 L1101.5 820.6 M1120.5 625.2 L1120.5 629.2 L1120.3 812.3 M1139.5 611.5 L1139.5 615.5 L1139.3 803.1 M1158.5 601.3 L1158.5 605.3 L1158.3 794.0 M1176.5 588.5 L1176.5 592.5 L1176.3 784.5 M1194.5 577.3 L1194.5 581.3 L1194.3 774.0 M1212.7 564.8 L1212.7 568.8 L1212.5 764.0 M1231.0 552.3 L1231.0 556.3 L1230.8 752.8 M1248.5 539.8 L1248.5 543.8 L1248.3 741.1"/>
<path stroke-width="4.7" stroke-dasharray="0 5.1" d="M1266.5 526.0 L1266.5 530.0 L1266.3 728.8 M1283.5 512.3 L1283.5 516.3 L1283.3 715.8 M1300.7 498.6 L1300.7 502.6 L1300.5 701.8 M1317.7 483.6 L1317.7 487.6 L1317.5 687.8 M1334.5 467.4 L1334.5 471.4 L1334.3 672.8 M1351.4 451.1 L1351.4 455.1 L1351.2 656.8 M1367.7 433.6 L1367.7 437.6 L1367.5 640.6 M1383.9 414.9 L1383.9 418.9 L1383.7 623.1 M1400.7 396.1 L1400.7 400.1 L1400.5 602.6 M1416.9 374.9 L1416.9 378.9 L1416.7 582.8 M1432.5 352.4 L1432.5 356.4 L1432.3 559.8 M1448.5 328.6 L1448.5 332.6 L1448.3 535.5 M1463.6 302.6 L1463.6 306.6 L1463.4 507.4 M1479.7 275.2 L1479.7 279.2 L1479.5 478.7 M1495.4 242.6 L1495.4 246.6 L1495.2 445.5 M1510.8 206.6 L1510.8 210.6 L1510.6 407.7 M1526.6 165.2 L1526.6 169.2 L1526.4 363.9 M1542.7 118.5 L1542.7 122.5 L1542.5 311.9"/>
</g>
<g clip-path="url(#ax)" fill="#000">
<circle cx="309.1" cy="985.3" r="2.3"/><circle cx="309.1" cy="992.1" r="2.4"/><circle cx="309.6" cy="995.9" r="2.4"/><circle cx="309.1" cy="1003.1" r="2.4"/><circle cx="309.6" cy="1011.9" r="2.4"/><circle cx="309.1" cy="1015.7" r="2.4"/><circle cx="309.6" cy="1022.7" r="2.4"/><circle cx="332.4" cy="943.1" r="2.3"/><circle cx="332.4" cy="948.7" r="2.4"/><circle cx="332.9" cy="960.0" r="2.4"/><circle cx="332.4" cy="963.9" r="2.4"/><circle cx="332.9" cy="974.1" r="2.4"/><circle cx="332.4" cy="984.1" r="2.4"/><circle cx="332.9" cy="996.3" r="2.4"/><circle cx="332.4" cy="1000.1" r="2.4"/><circle cx="332.9" cy="1008.5" r="2.4"/><circle cx="332.4" cy="1012.4" r="2.4"/><circle cx="332.9" cy="1016.2" r="2.4"/><circle cx="355.7" cy="899.8" r="2.3"/><circle cx="355.7" cy="905.8" r="2.4"/><circle cx="356.2" cy="916.2" r="2.4"/><circle cx="355.7" cy="926.0" r="2.4"/><circle cx="356.2" cy="929.8" r="2.4"/><circle cx="355.7" cy="933.6" r="2.4"/><circle cx="356.2" cy="937.5" r="2.4"/><circle cx="355.7" cy="946.6" r="2.4"/><circle cx="356.2" cy="956.7" r="2.4"/><circle cx="355.7" cy="965.1" r="2.4"/><circle cx="356.2" cy="975.8" r="2.4"/><circle cx="355.7" cy="985.7" r="2.4"/><circle cx="356.2" cy="997.4" r="2.4"/><circle cx="380.1" cy="858.1" r="2.3"/><circle cx="380.1" cy="868.2" r="2.4"/><circle cx="380.6" cy="872.0" r="2.4"/><circle cx="380.1" cy="883.0" r="2.4"/><circle cx="380.6" cy="886.8" r="2.4"/><circle cx="380.1" cy="893.8" r="2.4"/><circle cx="380.6" cy="904.9" r="2.4"/><circle cx="380.1" cy="916.5" r="2.4"/><circle cx="380.6" cy="927.2" r="2.4"/><circle cx="380.1" cy="937.2" r="2.4"/><circle cx="380.6" cy="948.6" r="2.4"/><circle cx="380.1" cy="958.0" r="2.4"/><circle cx="380.6" cy="965.2" r="2.4"/><circle cx="380.1" cy="975.5" r="2.4"/><circle cx="380.6" cy="986.9" r="2.4"/><circle cx="404.5" cy="819.0" r="2.3"/><circle cx="404.5" cy="827.5" r="2.4"/><circle cx="404.9" cy="831.3" r="2.4"/><circle cx="404.5" cy="839.1" r="2.4"/><circle cx="404.9" cy="842.9" r="2.4"/><circle cx="404.5" cy="846.7" r="2.4"/><circle cx="404.9" cy="854.2" r="2.4"/><circle cx="404.5" cy="863.2" r="2.4"/><circle cx="404.9" cy="870.4" r="2.4"/><circle cx="404.5" cy="880.3" r="2.4"/><circle cx="404.9" cy="891.6" r="2.4"/><circle cx="404.5" cy="899.9" r="2.4"/><circle cx="404.9" cy="908.7" r="2.4"/><circle cx="404.5" cy="920.8" r="2.4"/><circle cx="404.9" cy="924.6" r="2.4"/><circle cx="404.5" cy="928.5" r="2.4"/><circle cx="404.9" cy="936.5" r="2.4"/><circle cx="404.5" cy="946.6" r="2.4"/><circle cx="404.9" cy="953.4" r="2.4"/><circle cx="404.5" cy="962.3" r="2.4"/><circle cx="404.9" cy="974.3" r="2.4"/><circle cx="429.8" cy="784.6" r="2.3"/><circle cx="429.8" cy="792.8" r="2.4"/><circle cx="430.2" cy="799.9" r="2.4"/><circle cx="429.8" cy="811.1" r="2.4"/><circle cx="430.2" cy="822.3" r="2.4"/><circle cx="429.8" cy="831.3" r="2.4"/><circle cx="430.2" cy="835.1" r="2.4"/><circle cx="429.8" cy="842.2" r="2.4"/><circle cx="430.2" cy="846.1" r="2.4"/><circle cx="429.8" cy="849.9" r="2.4"/><circle cx="430.2" cy="853.7" r="2.4"/><circle cx="429.8" cy="860.8" r="2.4"/><circle cx="430.2" cy="864.6" r="2.4"/><circle cx="429.8" cy="868.5" r="2.4"/><circle cx="430.2" cy="872.3" r="2.4"/><circle cx="429.8" cy="879.2" r="2.4"/><circle cx="430.2" cy="889.4" r="2.4"/><circle cx="429.8" cy="893.2" r="2.4"/><circle cx="430.2" cy="902.0" r="2.4"/><circle cx="429.8" cy="909.4" r="2.4"/><circle cx="430.2" cy="921.7" r="2.4"/><circle cx="429.8" cy="931.2" r="2.4"/><circle cx="430.2" cy="935.0" r="2.4"/><circle cx="429.8" cy="938.8" r="2.4"/><circle cx="430.2" cy="947.1" r="2.4"/><circle cx="429.8" cy="954.8" r="2.4"/><circle cx="430.2" cy="958.6" r="2.4"/><circle cx="455.1" cy="750.3" r="2.3"/><circle cx="455.1" cy="756.1" r="2.4"/><circle cx="455.6" cy="763.1" r="2.4"/><circle cx="455.1" cy="775.3" r="2.4"/><circle cx="455.6" cy="785.9" r="2.4"/><circle cx="455.1" cy="794.8" r="2.4"/><circle cx="455.6" cy="798.6" r="2.4"/><circle cx="455.1" cy="808.3" r="2.4"/><circle cx="455.6" cy="817.0" r="2.4"/><circle cx="455.1" cy="828.2" r="2.4"/><circle cx="455.6" cy="839.8" r="2.4"/><circle cx="455.1" cy="851.1" r="2.4"/><circle cx="455.6" cy="859.1" r="2.4"/><circle cx="455.1" cy="867.9" r="2.4"/><circle cx="455.6" cy="871.7" r="2.4"/><circle cx="455.1" cy="875.5" r="2.4"/><circle cx="455.6" cy="883.8" r="2.4"/><circle cx="455.1" cy="895.9" r="2.4"/><circle cx="455.6" cy="907.8" r="2.4"/><circle cx="455.1" cy="919.9" r="2.4"/><circle cx="455.6" cy="927.9" r="2.4"/><circle cx="455.1" cy="935.8" r="2.4"/><circle cx="455.6" cy="939.6" r="2.4"/><circle cx="480.6" cy="720.6" r="2.3"/><circle cx="480.6" cy="731.6" r="2.4"/><circle cx="481.1" cy="743.9" r="2.4"/><circle cx="480.6" cy="752.4" r="2.4"/><circle cx="481.1" cy="766.4" r="2.4"/><circle cx="480.6" cy="779.2" r="2.4"/><circle cx="481.1" cy="788.4" r="2.4"/><circle cx="480.6" cy="798.5" r="2.4"/><circle cx="481.1" cy="812.9" r="2.4"/><circle cx="480.6" cy="823.5" r="2.4"/><circle cx="481.1" cy="836.2" r="2.4"/><circle cx="480.6" cy="840.7" r="2.4"/><circle cx="481.1" cy="845.2" r="2.4"/><circle cx="480.6" cy="849.7" r="2.4"/><circle cx="481.1" cy="862.9" r="2.4"/><circle cx="480.6" cy="867.4" r="2.4"/><circle cx="481.1" cy="881.8" r="2.4"/><circle cx="480.6" cy="892.1" r="2.4"/><circle cx="481.1" cy="900.9" r="2.4"/><circle cx="480.6" cy="905.4" r="2.4"/><circle cx="481.1" cy="917.7" r="2.4"/><circle cx="480.6" cy="931.7" r="2.4"/><circle cx="505.3" cy="693.1" r="2.3"/><circle cx="505.3" cy="704.1" r="2.4"/><circle cx="505.8" cy="708.6" r="2.4"/><circle cx="505.3" cy="718.5" r="2.4"/><circle cx="505.8" cy="730.3" r="2.4"/><circle cx="505.3" cy="741.0" r="2.4"/><circle cx="505.8" cy="745.5" r="2.4"/><circle cx="505.3" cy="755.8" r="2.4"/><circle cx="505.8" cy="767.6" r="2.4"/><circle cx="505.3" cy="778.3" r="2.4"/><circle cx="505.8" cy="789.6" r="2.4"/><circle cx="505.3" cy="801.0" r="2.4"/><circle cx="505.8" cy="805.5" r="2.4"/><circle cx="505.3" cy="814.7" r="2.4"/><circle cx="505.8" cy="819.2" r="2.4"/><circle cx="505.3" cy="828.3" r="2.4"/><circle cx="505.8" cy="841.0" r="2.4"/><circle cx="505.3" cy="851.1" r="2.4"/><circle cx="505.8" cy="862.7" r="2.4"/><circle cx="505.3" cy="871.4" r="2.4"/><circle cx="505.8" cy="881.0" r="2.4"/><circle cx="505.3" cy="894.1" r="2.4"/><circle cx="505.8" cy="905.7" r="2.4"/><circle cx="505.3" cy="919.6" r="2.4"/><circle cx="530.3" cy="669.0" r="2.3"/><circle cx="530.3" cy="678.0" r="2.4"/><circle cx="530.8" cy="690.5" r="2.4"/><circle cx="530.3" cy="702.0" r="2.4"/><circle cx="530.8" cy="716.1" r="2.4"/><circle cx="530.3" cy="729.8" r="2.4"/><circle cx="530.8" cy="739.5" r="2.4"/><circle cx="530.3" cy="753.6" r="2.4"/><circle cx="530.8" cy="762.5" r="2.4"/><circle cx="530.3" cy="767.0" r="2.4"/><circle cx="530.8" cy="775.5" r="2.4"/><circle cx="530.3" cy="784.0" r="2.4"/><circle cx="530.8" cy="797.1" r="2.4"/><circle cx="530.3" cy="806.1" r="2.4"/><circle cx="530.8" cy="818.4" r="2.4"/><circle cx="530.3" cy="822.9" r="2.4"/><circle cx="530.8" cy="837.2" r="2.4"/><circle cx="530.3" cy="841.7" r="2.4"/><circle cx="530.8" cy="852.2" r="2.4"/><circle cx="530.3" cy="866.7" r="2.4"/><circle cx="530.8" cy="875.7" r="2.4"/><circle cx="530.3" cy="887.1" r="2.4"/><circle cx="530.8" cy="896.4" r="2.4"/><circle cx="555.3" cy="647.8" r="2.3"/><circle cx="555.3" cy="653.9" r="2.4"/><circle cx="555.8" cy="664.8" r="2.4"/><circle cx="555.3" cy="669.3" r="2.4"/><circle cx="555.8" cy="681.3" r="2.4"/><circle cx="555.3" cy="689.8" r="2.4"/><circle cx="555.8" cy="702.9" r="2.4"/><circle cx="555.3" cy="711.6" r="2.4"/><circle cx="555.8" cy="719.8" r="2.4"/><circle cx="555.3" cy="729.6" r="2.4"/><circle cx="555.8" cy="734.1" r="2.4"/><circle cx="555.3" cy="748.0" r="2.4"/><circle cx="555.8" cy="757.7" r="2.4"/><circle cx="555.3" cy="762.2" r="2.4"/><circle cx="555.8" cy="773.9" r="2.4"/><circle cx="555.3" cy="782.5" r="2.4"/><circle cx="555.8" cy="787.0" r="2.4"/><circle cx="555.3" cy="797.7" r="2.4"/><circle cx="555.8" cy="802.2" r="2.4"/><circle cx="555.3" cy="814.4" r="2.4"/><circle cx="555.8" cy="822.9" r="2.4"/><circle cx="555.3" cy="831.3" r="2.4"/><circle cx="555.8" cy="842.3" r="2.4"/><circle cx="555.3" cy="853.9" r="2.4"/><circle cx="555.8" cy="863.6" r="2.4"/><circle cx="555.3" cy="868.1" r="2.4"/><circle cx="555.8" cy="877.7" r="2.4"/><circle cx="555.3" cy="882.2" r="2.4"/><circle cx="555.8" cy="886.7" r="2.4"/><circle cx="555.3" cy="891.2" r="2.4"/><circle cx="579.4" cy="625.6" r="2.3"/><circle cx="579.4" cy="633.5" r="2.4"/><circle cx="579.9" cy="646.4" r="2.4"/><circle cx="579.4" cy="657.7" r="2.4"/><circle cx="579.9" cy="662.2" r="2.4"/><circle cx="579.4" cy="670.3" r="2.4"/><circle cx="579.9" cy="678.4" r="2.4"/><circle cx="579.4" cy="690.0" r="2.4"/><circle cx="579.9" cy="694.5" r="2.4"/><circle cx="579.4" cy="708.5" r="2.4"/><circle cx="579.9" cy="713.0" r="2.4"/><circle cx="579.4" cy="723.8" r="2.4"/><circle cx="579.9" cy="737.3" r="2.4"/><circle cx="579.4" cy="748.6" r="2.4"/><circle cx="579.9" cy="762.9" r="2.4"/><circle cx="579.4" cy="776.4" r="2.4"/><circle cx="579.9" cy="788.5" r="2.4"/><circle cx="579.4" cy="798.8" r="2.4"/><circle cx="579.9" cy="803.3" r="2.4"/><circle cx="579.4" cy="807.8" r="2.4"/><circle cx="579.9" cy="812.3" r="2.4"/><circle cx="579.4" cy="821.9" r="2.4"/><circle cx="579.9" cy="826.4" r="2.4"/><circle cx="579.4" cy="830.9" r="2.4"/><circle cx="579.9" cy="844.6" r="2.4"/><circle cx="579.4" cy="854.4" r="2.4"/><circle cx="579.9" cy="864.3" r="2.4"/><circle cx="579.4" cy="873.3" r="2.4"/><circle cx="604.3" cy="602.3" r="2.3"/><circle cx="604.3" cy="614.1" r="2.4"/><circle cx="604.8" cy="625.6" r="2.4"/><circle cx="604.3" cy="639.9" r="2.4"/><circle cx="604.8" cy="650.2" r="2.4"/><circle cx="604.3" cy="654.7" r="2.4"/><circle cx="604.8" cy="665.8" r="2.4"/><circle cx="604.3" cy="675.1" r="2.4"/><circle cx="604.8" cy="683.1" r="2.4"/><circle cx="604.3" cy="691.7" r="2.4"/><circle cx="604.8" cy="700.0" r="2.4"/><circle cx="604.3" cy="704.5" r="2.4"/><circle cx="604.8" cy="714.0" r="2.4"/><circle cx="604.3" cy="725.5" r="2.4"/><circle cx="604.8" cy="737.7" r="2.4"/><circle cx="604.3" cy="751.4" r="2.4"/><circle cx="604.8" cy="761.6" r="2.4"/><circle cx="604.3" cy="770.5" r="2.4"/><circle cx="604.8" cy="782.7" r="2.4"/><circle cx="604.3" cy="787.2" r="2.4"/><circle cx="604.8" cy="801.0" r="2.4"/><circle cx="604.3" cy="813.8" r="2.4"/><circle cx="604.8" cy="822.7" r="2.4"/><circle cx="604.3" cy="834.0" r="2.4"/><circle cx="604.8" cy="847.2" r="2.4"/><circle cx="604.3" cy="859.0" r="2.4"/><circle cx="628.4" cy="580.6" r="2.3"/><circle cx="628.4" cy="592.8" r="2.4"/><circle cx="628.9" cy="602.6" r="2.4"/><circle cx="628.4" cy="608.0" r="2.4"/><circle cx="628.9" cy="618.5" r="2.4"/><circle cx="628.4" cy="632.4" r="2.4"/><circle cx="628.9" cy="646.9" r="2.4"/><circle cx="628.4" cy="660.3" r="2.4"/><circle cx="628.9" cy="665.7" r="2.4"/><circle cx="628.4" cy="681.1" r="2.4"/><circle cx="628.9" cy="694.9" r="2.4"/><circle cx="628.4" cy="705.0" r="2.4"/><circle cx="628.9" cy="716.6" r="2.4"/><circle cx="628.4" cy="722.0" r="2.4"/><circle cx="628.9" cy="737.3" r="2.4"/><circle cx="628.4" cy="742.7" r="2.4"/><circle cx="628.9" cy="759.9" r="2.4"/><circle cx="628.4" cy="772.5" r="2.4"/><circle cx="628.9" cy="787.4" r="2.4"/><circle cx="628.4" cy="801.8" r="2.4"/><circle cx="628.9" cy="812.0" r="2.4"/><circle cx="628.4" cy="817.4" r="2.4"/><circle cx="628.9" cy="832.8" r="2.4"/><circle cx="628.4" cy="846.9" r="2.4"/><circle cx="628.9" cy="852.3" r="2.4"/><circle cx="652.6" cy="559.8" r="2.3"/><circle cx="652.6" cy="568.9" r="2.4"/><circle cx="653.1" cy="583.9" r="2.4"/><circle cx="652.6" cy="595.8" r="2.4"/><circle cx="653.1" cy="609.0" r="2.4"/><circle cx="652.6" cy="619.6" r="2.4"/><circle cx="653.1" cy="630.7" r="2.4"/><circle cx="652.6" cy="647.6" r="2.4"/><circle cx="653.1" cy="653.0" r="2.4"/><circle cx="652.6" cy="669.0" r="2.4"/><circle cx="653.1" cy="682.1" r="2.4"/><circle cx="652.6" cy="693.3" r="2.4"/><circle cx="653.1" cy="704.6" r="2.4"/><circle cx="652.6" cy="715.3" r="2.4"/><circle cx="653.1" cy="732.3" r="2.4"/><circle cx="652.6" cy="737.7" r="2.4"/><circle cx="653.1" cy="751.3" r="2.4"/><circle cx="652.6" cy="766.4" r="2.4"/><circle cx="653.1" cy="783.0" r="2.4"/><circle cx="652.6" cy="792.8" r="2.4"/><circle cx="653.1" cy="798.2" r="2.4"/><circle cx="652.6" cy="811.3" r="2.4"/><circle cx="653.1" cy="822.0" r="2.4"/><circle cx="652.6" cy="834.1" r="2.4"/><circle cx="653.1" cy="843.7" r="2.4"/><circle cx="675.9" cy="540.6" r="2.3"/><circle cx="675.9" cy="548.7" r="2.4"/><circle cx="676.4" cy="563.8" r="2.4"/><circle cx="675.9" cy="575.7" r="2.4"/><circle cx="676.4" cy="588.4" r="2.4"/><circle cx="675.9" cy="602.5" r="2.4"/><circle cx="676.4" cy="615.5" r="2.4"/><circle cx="675.9" cy="625.5" r="2.4"/><circle cx="676.4" cy="630.9" r="2.4"/><circle cx="675.9" cy="642.7" r="2.4"/><circle cx="676.4" cy="654.2" r="2.4"/><circle cx="675.9" cy="667.8" r="2.4"/><circle cx="676.4" cy="673.2" r="2.4"/><circle cx="675.9" cy="690.3" r="2.4"/><circle cx="676.4" cy="706.2" r="2.4"/><circle cx="675.9" cy="722.9" r="2.4"/><circle cx="676.4" cy="736.8" r="2.4"/><circle cx="675.9" cy="746.8" r="2.4"/><circle cx="676.4" cy="759.9" r="2.4"/><circle cx="675.9" cy="774.5" r="2.4"/><circle cx="676.4" cy="784.5" r="2.4"/><circle cx="675.9" cy="795.1" r="2.4"/><circle cx="676.4" cy="807.4" r="2.4"/><circle cx="675.9" cy="822.8" r="2.4"/><circle cx="676.4" cy="834.4" r="2.4"/><circle cx="699.4" cy="524.8" r="2.3"/><circle cx="699.4" cy="537.9" r="2.4"/><circle cx="699.9" cy="550.6" r="2.4"/><circle cx="699.4" cy="556.9" r="2.4"/><circle cx="699.9" cy="563.2" r="2.4"/><circle cx="699.4" cy="578.9" r="2.4"/><circle cx="699.9" cy="598.4" r="2.4"/><circle cx="699.4" cy="613.7" r="2.4"/><circle cx="699.9" cy="620.0" r="2.4"/><circle cx="699.4" cy="626.3" r="2.4"/><circle cx="699.9" cy="632.6" r="2.4"/><circle cx="699.4" cy="644.6" r="2.4"/><circle cx="699.9" cy="658.1" r="2.4"/><circle cx="699.4" cy="677.4" r="2.4"/><circle cx="699.9" cy="692.4" r="2.4"/><circle cx="699.4" cy="708.3" r="2.4"/><circle cx="699.9" cy="722.6" r="2.4"/><circle cx="699.4" cy="728.9" r="2.4"/><circle cx="699.9" cy="748.9" r="2.4"/><circle cx="699.4" cy="755.2" r="2.4"/><circle cx="699.9" cy="772.2" r="2.4"/><circle cx="699.4" cy="785.3" r="2.4"/><circle cx="699.9" cy="798.8" r="2.4"/><circle cx="699.4" cy="814.0" r="2.4"/><circle cx="722.6" cy="507.3" r="2.3"/><circle cx="722.6" cy="523.0" r="2.4"/><circle cx="723.1" cy="529.3" r="2.4"/><circle cx="722.6" cy="535.6" r="2.4"/><circle cx="723.1" cy="555.0" r="2.4"/><circle cx="722.6" cy="571.5" r="2.4"/><circle cx="723.1" cy="577.8" r="2.4"/><circle cx="722.6" cy="597.5" r="2.4"/><circle cx="723.1" cy="616.4" r="2.4"/><circle cx="722.6" cy="629.9" r="2.4"/><circle cx="723.1" cy="636.2" r="2.4"/><circle cx="722.6" cy="642.5" r="2.4"/><circle cx="723.1" cy="659.9" r="2.4"/><circle cx="722.6" cy="677.7" r="2.4"/><circle cx="723.1" cy="695.8" r="2.4"/><circle cx="722.6" cy="712.1" r="2.4"/><circle cx="723.1" cy="718.4" r="2.4"/><circle cx="722.6" cy="731.7" r="2.4"/><circle cx="723.1" cy="748.7" r="2.4"/><circle cx="722.6" cy="761.1" r="2.4"/><circle cx="723.1" cy="778.1" r="2.4"/><circle cx="722.6" cy="790.3" r="2.4"/><circle cx="723.1" cy="796.6" r="2.4"/><circle cx="722.6" cy="813.1" r="2.4"/><circle cx="745.6" cy="490.0" r="2.3"/><circle cx="745.6" cy="503.4" r="2.4"/><circle cx="746.1" cy="509.7" r="2.4"/><circle cx="745.6" cy="525.1" r="2.4"/><circle cx="746.1" cy="542.2" r="2.4"/><circle cx="745.6" cy="557.7" r="2.4"/><circle cx="746.1" cy="571.2" r="2.4"/><circle cx="745.6" cy="588.8" r="2.4"/><circle cx="746.1" cy="600.2" r="2.4"/><circle cx="745.6" cy="617.5" r="2.4"/><circle cx="746.1" cy="631.1" r="2.4"/><circle cx="745.6" cy="650.7" r="2.4"/><circle cx="746.1" cy="662.2" r="2.4"/><circle cx="745.6" cy="677.2" r="2.4"/><circle cx="746.1" cy="690.2" r="2.4"/><circle cx="745.6" cy="708.2" r="2.4"/><circle cx="746.1" cy="721.2" r="2.4"/><circle cx="745.6" cy="735.3" r="2.4"/><circle cx="746.1" cy="748.6" r="2.4"/><circle cx="745.6" cy="766.7" r="2.4"/><circle cx="746.1" cy="786.5" r="2.4"/><circle cx="745.6" cy="799.4" r="2.4"/><circle cx="767.8" cy="473.7" r="2.3"/><circle cx="767.8" cy="487.7" r="2.4"/><circle cx="768.3" cy="500.2" r="2.4"/><circle cx="767.8" cy="513.4" r="2.4"/><circle cx="768.3" cy="525.8" r="2.4"/><circle cx="767.8" cy="532.1" r="2.4"/><circle cx="768.3" cy="538.4" r="2.4"/><circle cx="767.8" cy="557.8" r="2.4"/><circle cx="768.3" cy="575.7" r="2.4"/><circle cx="767.8" cy="595.4" r="2.4"/><circle cx="768.3" cy="608.3" r="2.4"/><circle cx="767.8" cy="626.2" r="2.4"/><circle cx="768.3" cy="632.5" r="2.4"/><circle cx="767.8" cy="647.2" r="2.4"/><circle cx="768.3" cy="661.4" r="2.4"/><circle cx="767.8" cy="667.7" r="2.4"/><circle cx="768.3" cy="674.0" r="2.4"/><circle cx="767.8" cy="688.4" r="2.4"/><circle cx="768.3" cy="700.7" r="2.4"/><circle cx="767.8" cy="713.8" r="2.4"/><circle cx="768.3" cy="732.5" r="2.4"/><circle cx="767.8" cy="747.6" r="2.4"/><circle cx="768.3" cy="753.9" r="2.4"/><circle cx="767.8" cy="768.5" r="2.4"/><circle cx="768.3" cy="781.5" r="2.4"/><circle cx="790.6" cy="458.1" r="2.3"/><circle cx="790.6" cy="466.8" r="2.4"/><circle cx="791.1" cy="485.3" r="2.4"/><circle cx="790.6" cy="496.9" r="2.4"/><circle cx="791.1" cy="503.2" r="2.4"/><circle cx="790.6" cy="509.5" r="2.4"/><circle cx="791.1" cy="523.1" r="2.4"/><circle cx="790.6" cy="542.4" r="2.4"/><circle cx="791.1" cy="556.1" r="2.4"/><circle cx="790.6" cy="572.9" r="2.4"/><circle cx="791.1" cy="590.6" r="2.4"/><circle cx="790.6" cy="604.3" r="2.4"/><circle cx="791.1" cy="610.6" r="2.4"/><circle cx="790.6" cy="630.2" r="2.4"/><circle cx="791.1" cy="650.0" r="2.4"/><circle cx="790.6" cy="656.3" r="2.4"/><circle cx="791.1" cy="671.8" r="2.4"/><circle cx="790.6" cy="691.7" r="2.4"/><circle cx="791.1" cy="705.2" r="2.4"/><circle cx="790.6" cy="720.9" r="2.4"/><circle cx="791.1" cy="733.7" r="2.4"/><circle cx="790.6" cy="751.6" r="2.4"/><circle cx="791.1" cy="769.9" r="2.4"/><circle cx="790.6" cy="784.1" r="2.4"/><circle cx="812.6" cy="439.8" r="2.3"/><circle cx="812.6" cy="459.0" r="2.4"/><circle cx="813.1" cy="467.1" r="2.4"/><circle cx="812.6" cy="475.2" r="2.4"/><circle cx="813.1" cy="492.5" r="2.4"/><circle cx="812.6" cy="500.6" r="2.4"/><circle cx="813.1" cy="508.7" r="2.4"/><circle cx="812.6" cy="527.0" r="2.4"/><circle cx="813.1" cy="551.7" r="2.4"/><circle cx="812.6" cy="569.2" r="2.4"/><circle cx="813.1" cy="577.3" r="2.4"/><circle cx="812.6" cy="585.4" r="2.4"/><circle cx="813.1" cy="608.1" r="2.4"/><circle cx="812.6" cy="625.2" r="2.4"/><circle cx="813.1" cy="646.9" r="2.4"/><circle cx="812.6" cy="670.0" r="2.4"/><circle cx="813.1" cy="692.2" r="2.4"/><circle cx="812.6" cy="700.3" r="2.4"/><circle cx="813.1" cy="718.2" r="2.4"/><circle cx="812.6" cy="736.9" r="2.4"/><circle cx="813.1" cy="753.6" r="2.4"/><circle cx="812.6" cy="770.9" r="2.4"/><circle cx="834.4" cy="424.2" r="2.3"/><circle cx="834.4" cy="444.5" r="2.4"/><circle cx="834.9" cy="462.8" r="2.4"/><circle cx="834.4" cy="488.8" r="2.4"/><circle cx="834.9" cy="505.9" r="2.4"/><circle cx="834.4" cy="527.9" r="2.4"/><circle cx="834.9" cy="543.5" r="2.4"/><circle cx="834.4" cy="567.5" r="2.4"/><circle cx="834.9" cy="592.6" r="2.4"/><circle cx="834.4" cy="600.7" r="2.4"/><circle cx="834.9" cy="616.5" r="2.4"/><circle cx="834.4" cy="624.6" r="2.4"/><circle cx="834.9" cy="645.8" r="2.4"/><circle cx="834.4" cy="664.6" r="2.4"/><circle cx="834.9" cy="684.2" r="2.4"/><circle cx="834.4" cy="707.7" r="2.4"/><circle cx="834.9" cy="723.4" r="2.4"/><circle cx="834.4" cy="745.0" r="2.4"/><circle cx="834.9" cy="753.1" r="2.4"/><circle cx="855.8" cy="410.5" r="2.3"/><circle cx="855.8" cy="423.5" r="2.4"/><circle cx="856.3" cy="444.9" r="2.4"/><circle cx="855.8" cy="461.7" r="2.4"/><circle cx="856.3" cy="469.8" r="2.4"/><circle cx="855.8" cy="492.1" r="2.4"/><circle cx="856.3" cy="500.2" r="2.4"/><circle cx="855.8" cy="517.0" r="2.4"/><circle cx="856.3" cy="537.8" r="2.4"/><circle cx="855.8" cy="545.9" r="2.4"/><circle cx="856.3" cy="554.0" r="2.4"/><circle cx="855.8" cy="574.9" r="2.4"/><circle cx="856.3" cy="590.3" r="2.4"/><circle cx="855.8" cy="598.4" r="2.4"/><circle cx="856.3" cy="617.6" r="2.4"/><circle cx="855.8" cy="635.6" r="2.4"/><circle cx="856.3" cy="653.7" r="2.4"/><circle cx="855.8" cy="672.3" r="2.4"/><circle cx="856.3" cy="696.8" r="2.4"/><circle cx="855.8" cy="715.4" r="2.4"/><circle cx="856.3" cy="723.5" r="2.4"/><circle cx="855.8" cy="740.3" r="2.4"/><circle cx="856.3" cy="748.4" r="2.4"/><circle cx="877.6" cy="392.1" r="2.3"/><circle cx="877.6" cy="411.8" r="2.4"/><circle cx="878.1" cy="436.5" r="2.4"/><circle cx="877.6" cy="452.8" r="2.4"/><circle cx="878.1" cy="460.9" r="2.4"/><circle cx="877.6" cy="482.8" r="2.4"/><circle cx="878.1" cy="498.2" r="2.4"/><circle cx="877.6" cy="517.0" r="2.4"/><circle cx="878.1" cy="533.1" r="2.4"/><circle cx="877.6" cy="553.6" r="2.4"/><circle cx="878.1" cy="569.2" r="2.4"/><circle cx="877.6" cy="593.1" r="2.4"/><circle cx="878.1" cy="609.8" r="2.4"/><circle cx="877.6" cy="617.9" r="2.4"/><circle cx="878.1" cy="643.7" r="2.4"/><circle cx="877.6" cy="658.7" r="2.4"/><circle cx="878.1" cy="677.6" r="2.4"/><circle cx="877.6" cy="699.3" r="2.4"/><circle cx="878.1" cy="715.6" r="2.4"/><circle cx="877.6" cy="732.6" r="2.4"/><circle cx="898.4" cy="372.9" r="2.3"/><circle cx="898.4" cy="392.7" r="2.4"/><circle cx="898.9" cy="400.8" r="2.4"/><circle cx="898.4" cy="408.9" r="2.4"/><circle cx="898.9" cy="429.3" r="2.4"/><circle cx="898.4" cy="445.2" r="2.4"/><circle cx="898.9" cy="468.0" r="2.4"/><circle cx="898.4" cy="482.9" r="2.4"/><circle cx="898.9" cy="506.2" r="2.4"/><circle cx="898.4" cy="514.3" r="2.4"/><circle cx="898.9" cy="530.1" r="2.4"/><circle cx="898.4" cy="550.9" r="2.4"/><circle cx="898.9" cy="568.9" r="2.4"/><circle cx="898.4" cy="590.1" r="2.4"/><circle cx="898.9" cy="612.2" r="2.4"/><circle cx="898.4" cy="631.7" r="2.4"/><circle cx="898.9" cy="639.8" r="2.4"/><circle cx="898.4" cy="660.0" r="2.4"/><circle cx="898.9" cy="683.3" r="2.4"/><circle cx="898.4" cy="703.1" r="2.4"/><circle cx="898.9" cy="711.2" r="2.4"/><circle cx="898.4" cy="726.8" r="2.4"/><circle cx="898.9" cy="734.9" r="2.4"/><circle cx="919.4" cy="358.2" r="2.3"/><circle cx="919.4" cy="373.8" r="2.4"/><circle cx="919.9" cy="388.7" r="2.4"/><circle cx="919.4" cy="404.0" r="2.4"/><circle cx="919.9" cy="427.5" r="2.4"/><circle cx="919.4" cy="442.5" r="2.4"/><circle cx="919.9" cy="461.4" r="2.4"/><circle cx="919.4" cy="477.4" r="2.4"/><circle cx="919.9" cy="503.4" r="2.4"/><circle cx="919.4" cy="527.4" r="2.4"/><circle cx="919.9" cy="535.5" r="2.4"/><circle cx="919.4" cy="555.6" r="2.4"/><circle cx="919.9" cy="580.7" r="2.4"/><circle cx="919.4" cy="588.8" r="2.4"/><circle cx="919.9" cy="614.1" r="2.4"/><circle cx="919.4" cy="622.2" r="2.4"/><circle cx="919.9" cy="645.5" r="2.4"/><circle cx="919.4" cy="653.6" r="2.4"/><circle cx="919.9" cy="671.2" r="2.4"/><circle cx="919.4" cy="687.3" r="2.4"/><circle cx="919.9" cy="712.4" r="2.4"/><circle cx="919.4" cy="720.5" r="2.4"/><circle cx="940.4" cy="340.5" r="2.3"/><circle cx="940.4" cy="354.7" r="2.4"/><circle cx="940.9" cy="362.8" r="2.4"/><circle cx="940.4" cy="370.9" r="2.4"/><circle cx="940.9" cy="379.0" r="2.4"/><circle cx="940.4" cy="401.4" r="2.4"/><circle cx="940.9" cy="417.8" r="2.4"/><circle cx="940.4" cy="433.5" r="2.4"/><circle cx="940.9" cy="455.4" r="2.4"/><circle cx="940.4" cy="480.0" r="2.4"/><circle cx="940.9" cy="501.2" r="2.4"/><circle cx="940.4" cy="516.8" r="2.4"/><circle cx="940.9" cy="538.6" r="2.4"/><circle cx="940.4" cy="562.3" r="2.4"/><circle cx="940.9" cy="588.3" r="2.4"/><circle cx="940.4" cy="606.9" r="2.4"/><circle cx="940.9" cy="626.5" r="2.4"/><circle cx="940.4" cy="634.6" r="2.4"/><circle cx="940.9" cy="649.5" r="2.4"/><circle cx="940.4" cy="666.9" r="2.4"/><circle cx="940.9" cy="692.8" r="2.4"/><circle cx="940.4" cy="715.0" r="2.4"/><circle cx="961.4" cy="323.3" r="2.3"/><circle cx="961.4" cy="334.5" r="2.4"/><circle cx="961.9" cy="342.6" r="2.4"/><circle cx="961.4" cy="362.0" r="2.4"/><circle cx="961.9" cy="386.9" r="2.4"/><circle cx="961.4" cy="395.0" r="2.4"/><circle cx="961.9" cy="417.0" r="2.4"/><circle cx="961.4" cy="425.1" r="2.4"/><circle cx="961.9" cy="433.2" r="2.4"/><circle cx="961.4" cy="448.9" r="2.4"/><circle cx="961.9" cy="465.9" r="2.4"/><circle cx="961.4" cy="487.2" r="2.4"/><circle cx="961.9" cy="495.3" r="2.4"/><circle cx="961.4" cy="515.3" r="2.4"/><circle cx="961.9" cy="523.4" r="2.4"/><circle cx="961.4" cy="540.6" r="2.4"/><circle cx="961.9" cy="548.7" r="2.4"/><circle cx="961.4" cy="556.8" r="2.4"/><circle cx="961.9" cy="581.4" r="2.4"/><circle cx="961.4" cy="600.5" r="2.4"/><circle cx="961.9" cy="615.0" r="2.4"/><circle cx="961.4" cy="636.0" r="2.4"/><circle cx="961.9" cy="658.0" r="2.4"/><circle cx="961.4" cy="683.3" r="2.4"/><circle cx="961.9" cy="700.6" r="2.4"/><circle cx="981.6" cy="305.8" r="2.3"/><circle cx="981.6" cy="322.3" r="2.4"/><circle cx="982.1" cy="339.5" r="2.4"/><circle cx="981.6" cy="347.6" r="2.4"/><circle cx="982.1" cy="362.2" r="2.4"/><circle cx="981.6" cy="387.6" r="2.4"/><circle cx="982.1" cy="395.7" r="2.4"/><circle cx="981.6" cy="403.8" r="2.4"/><circle cx="982.1" cy="424.1" r="2.4"/><circle cx="981.6" cy="448.0" r="2.4"/><circle cx="982.1" cy="456.1" r="2.4"/><circle cx="981.6" cy="474.0" r="2.4"/><circle cx="982.1" cy="482.1" r="2.4"/><circle cx="981.6" cy="505.7" r="2.4"/><circle cx="982.1" cy="520.2" r="2.4"/><circle cx="981.6" cy="543.3" r="2.4"/><circle cx="982.1" cy="566.4" r="2.4"/><circle cx="981.6" cy="583.4" r="2.4"/><circle cx="982.1" cy="591.5" r="2.4"/><circle cx="981.6" cy="606.4" r="2.4"/><circle cx="982.1" cy="629.5" r="2.4"/><circle cx="981.6" cy="653.8" r="2.4"/><circle cx="982.1" cy="671.3" r="2.4"/><circle cx="981.6" cy="690.8" r="2.4"/><circle cx="1001.4" cy="287.8" r="2.3"/><circle cx="1001.4" cy="304.5" r="2.4"/><circle cx="1001.9" cy="335.9" r="2.4"/><circle cx="1001.4" cy="345.8" r="2.4"/><circle cx="1001.9" cy="363.6" r="2.4"/><circle cx="1001.4" cy="384.6" r="2.4"/><circle cx="1001.9" cy="415.7" r="2.4"/><circle cx="1001.4" cy="438.0" r="2.4"/><circle cx="1001.9" cy="460.3" r="2.4"/><circle cx="1001.4" cy="490.9" r="2.4"/><circle cx="1001.9" cy="518.4" r="2.4"/><circle cx="1001.4" cy="550.0" r="2.4"/><circle cx="1001.9" cy="579.6" r="2.4"/><circle cx="1001.4" cy="609.4" r="2.4"/><circle cx="1001.9" cy="637.4" r="2.4"/><circle cx="1001.4" cy="659.4" r="2.4"/><circle cx="1001.9" cy="669.3" r="2.4"/><circle cx="1021.6" cy="269.1" r="2.3"/><circle cx="1021.6" cy="294.3" r="2.4"/><circle cx="1022.1" cy="304.2" r="2.4"/><circle cx="1021.6" cy="314.1" r="2.4"/><circle cx="1022.1" cy="324.0" r="2.4"/><circle cx="1021.6" cy="346.6" r="2.4"/><circle cx="1022.1" cy="356.5" r="2.4"/><circle cx="1021.6" cy="366.4" r="2.4"/><circle cx="1022.1" cy="376.3" r="2.4"/><circle cx="1021.6" cy="402.9" r="2.4"/><circle cx="1022.1" cy="431.1" r="2.4"/><circle cx="1021.6" cy="441.0" r="2.4"/><circle cx="1022.1" cy="463.8" r="2.4"/><circle cx="1021.6" cy="493.1" r="2.4"/><circle cx="1022.1" cy="511.6" r="2.4"/><circle cx="1021.6" cy="542.3" r="2.4"/><circle cx="1022.1" cy="561.4" r="2.4"/><circle cx="1021.6" cy="571.3" r="2.4"/><circle cx="1022.1" cy="581.2" r="2.4"/><circle cx="1021.6" cy="591.1" r="2.4"/><circle cx="1022.1" cy="620.3" r="2.4"/><circle cx="1021.6" cy="649.7" r="2.4"/><circle cx="1022.1" cy="671.4" r="2.4"/><circle cx="1041.6" cy="246.1" r="2.3"/><circle cx="1041.6" cy="260.6" r="2.4"/><circle cx="1042.0" cy="281.1" r="2.4"/><circle cx="1041.6" cy="304.8" r="2.4"/><circle cx="1042.0" cy="314.7" r="2.4"/><circle cx="1041.6" cy="336.3" r="2.4"/><circle cx="1042.0" cy="359.2" r="2.4"/><circle cx="1041.6" cy="390.6" r="2.4"/><circle cx="1042.0" cy="420.3" r="2.4"/><circle cx="1041.6" cy="438.4" r="2.4"/><circle cx="1042.0" cy="462.2" r="2.4"/><circle cx="1041.6" cy="484.8" r="2.4"/><circle cx="1042.0" cy="510.1" r="2.4"/><circle cx="1041.6" cy="520.0" r="2.4"/><circle cx="1042.0" cy="538.9" r="2.4"/><circle cx="1041.6" cy="558.9" r="2.4"/><circle cx="1042.0" cy="568.8" r="2.4"/><circle cx="1041.6" cy="578.7" r="2.4"/><circle cx="1042.0" cy="610.3" r="2.4"/><circle cx="1041.6" cy="620.2" r="2.4"/><circle cx="1042.0" cy="644.8" r="2.4"/><circle cx="1041.6" cy="665.1" r="2.4"/><circle cx="1061.4" cy="225.0" r="2.3"/><circle cx="1061.4" cy="249.2" r="2.4"/><circle cx="1061.8" cy="280.3" r="2.4"/><circle cx="1061.4" cy="300.9" r="2.4"/><circle cx="1061.8" cy="325.7" r="2.4"/><circle cx="1061.4" cy="335.6" r="2.4"/><circle cx="1061.8" cy="354.3" r="2.4"/><circle cx="1061.4" cy="381.9" r="2.4"/><circle cx="1061.8" cy="408.5" r="2.4"/><circle cx="1061.4" cy="431.8" r="2.4"/><circle cx="1061.8" cy="462.2" r="2.4"/><circle cx="1061.4" cy="472.1" r="2.4"/><circle cx="1061.8" cy="490.0" r="2.4"/><circle cx="1061.4" cy="499.9" r="2.4"/><circle cx="1061.8" cy="530.4" r="2.4"/><circle cx="1061.4" cy="553.4" r="2.4"/><circle cx="1061.8" cy="574.4" r="2.4"/><circle cx="1061.4" cy="599.6" r="2.4"/><circle cx="1061.8" cy="627.9" r="2.4"/><circle cx="1061.4" cy="650.5" r="2.4"/><circle cx="1080.6" cy="202.0" r="2.3"/><circle cx="1080.6" cy="226.3" r="2.4"/><circle cx="1081.0" cy="254.5" r="2.4"/><circle cx="1080.6" cy="264.4" r="2.4"/><circle cx="1081.0" cy="293.1" r="2.4"/><circle cx="1080.6" cy="312.5" r="2.4"/><circle cx="1081.0" cy="342.8" r="2.4"/><circle cx="1080.6" cy="363.1" r="2.4"/><circle cx="1081.0" cy="390.8" r="2.4"/><circle cx="1080.6" cy="410.6" r="2.4"/><circle cx="1081.0" cy="420.5" r="2.4"/><circle cx="1080.6" cy="442.7" r="2.4"/><circle cx="1081.0" cy="462.6" r="2.4"/><circle cx="1080.6" cy="482.9" r="2.4"/><circle cx="1081.0" cy="511.0" r="2.4"/><circle cx="1080.6" cy="520.9" r="2.4"/><circle cx="1081.0" cy="539.9" r="2.4"/><circle cx="1080.6" cy="571.6" r="2.4"/><circle cx="1081.0" cy="599.7" r="2.4"/><circle cx="1080.6" cy="620.1" r="2.4"/><circle cx="1081.0" cy="639.2" r="2.4"/><circle cx="1099.6" cy="180.3" r="2.3"/><circle cx="1099.6" cy="198.6" r="2.4"/><circle cx="1100.0" cy="208.5" r="2.4"/><circle cx="1099.6" cy="237.4" r="2.4"/><circle cx="1100.0" cy="262.2" r="2.4"/><circle cx="1099.6" cy="286.4" r="2.4"/><circle cx="1100.0" cy="296.3" r="2.4"/><circle cx="1099.6" cy="319.7" r="2.4"/><circle cx="1100.0" cy="350.3" r="2.4"/><circle cx="1099.6" cy="376.1" r="2.4"/><circle cx="1100.0" cy="399.7" r="2.4"/><circle cx="1099.6" cy="427.6" r="2.4"/><circle cx="1100.0" cy="456.3" r="2.4"/><circle cx="1099.6" cy="486.1" r="2.4"/><circle cx="1100.0" cy="512.9" r="2.4"/><circle cx="1099.6" cy="535.0" r="2.4"/><circle cx="1100.0" cy="554.0" r="2.4"/><circle cx="1099.6" cy="582.7" r="2.4"/><circle cx="1100.0" cy="609.3" r="2.4"/><circle cx="1099.6" cy="633.0" r="2.4"/><circle cx="1118.4" cy="155.3" r="2.3"/><circle cx="1118.4" cy="173.9" r="2.4"/><circle cx="1118.8" cy="204.8" r="2.4"/><circle cx="1118.4" cy="214.7" r="2.4"/><circle cx="1118.8" cy="243.4" r="2.4"/><circle cx="1118.4" cy="268.0" r="2.4"/><circle cx="1118.8" cy="286.2" r="2.4"/><circle cx="1118.4" cy="306.1" r="2.4"/><circle cx="1118.8" cy="337.1" r="2.4"/><circle cx="1118.4" cy="356.2" r="2.4"/><circle cx="1118.8" cy="381.5" r="2.4"/><circle cx="1118.4" cy="406.4" r="2.4"/><circle cx="1118.8" cy="435.9" r="2.4"/><circle cx="1118.4" cy="459.4" r="2.4"/><circle cx="1118.8" cy="480.0" r="2.4"/><circle cx="1118.4" cy="503.2" r="2.4"/><circle cx="1118.8" cy="522.5" r="2.4"/><circle cx="1118.4" cy="545.2" r="2.4"/><circle cx="1118.8" cy="555.1" r="2.4"/><circle cx="1118.4" cy="578.4" r="2.4"/><circle cx="1118.8" cy="588.3" r="2.4"/><circle cx="1118.4" cy="611.9" r="2.4"/><circle cx="1137.4" cy="132.3" r="2.3"/><circle cx="1137.4" cy="149.0" r="2.4"/><circle cx="1137.8" cy="177.2" r="2.4"/><circle cx="1137.4" cy="202.3" r="2.4"/><circle cx="1137.8" cy="212.2" r="2.4"/><circle cx="1137.4" cy="235.4" r="2.4"/><circle cx="1137.8" cy="245.3" r="2.4"/><circle cx="1137.4" cy="255.2" r="2.4"/><circle cx="1137.8" cy="284.4" r="2.4"/><circle cx="1137.4" cy="308.7" r="2.4"/><circle cx="1137.8" cy="329.6" r="2.4"/><circle cx="1137.4" cy="352.2" r="2.4"/><circle cx="1137.8" cy="381.5" r="2.4"/><circle cx="1137.4" cy="405.8" r="2.4"/><circle cx="1137.8" cy="431.3" r="2.4"/><circle cx="1137.4" cy="441.2" r="2.4"/><circle cx="1137.8" cy="463.8" r="2.4"/><circle cx="1137.4" cy="485.3" r="2.4"/><circle cx="1137.8" cy="506.5" r="2.4"/><circle cx="1137.4" cy="526.7" r="2.4"/><circle cx="1137.8" cy="536.6" r="2.4"/><circle cx="1137.4" cy="558.3" r="2.4"/><circle cx="1137.8" cy="580.2" r="2.4"/><circle cx="1137.4" cy="603.9" r="2.4"/><circle cx="1156.4" cy="109.3" r="2.3"/><circle cx="1156.8" cy="157.1" r="2.4"/><circle cx="1156.4" cy="167.0" r="2.4"/><circle cx="1156.8" cy="197.6" r="2.4"/><circle cx="1156.4" cy="217.2" r="2.4"/><circle cx="1156.8" cy="243.8" r="2.4"/><circle cx="1156.4" cy="253.7" r="2.4"/><circle cx="1156.8" cy="263.6" r="2.4"/><circle cx="1156.4" cy="290.6" r="2.4"/><circle cx="1156.8" cy="309.6" r="2.4"/><circle cx="1156.4" cy="319.5" r="2.4"/><circle cx="1156.8" cy="348.3" r="2.4"/><circle cx="1156.4" cy="368.0" r="2.4"/><circle cx="1156.8" cy="397.0" r="2.4"/><circle cx="1156.4" cy="406.9" r="2.4"/><circle cx="1156.8" cy="433.2" r="2.4"/><circle cx="1156.4" cy="460.3" r="2.4"/><circle cx="1156.8" cy="489.2" r="2.4"/><circle cx="1156.4" cy="509.6" r="2.4"/><circle cx="1156.8" cy="534.8" r="2.4"/><circle cx="1156.4" cy="558.7" r="2.4"/><circle cx="1156.8" cy="584.2" r="2.4"/><circle cx="1174.4" cy="86.3" r="2.3"/><circle cx="1174.8" cy="164.2" r="2.4"/><circle cx="1174.4" cy="194.1" r="2.4"/><circle cx="1174.8" cy="204.0" r="2.4"/><circle cx="1174.4" cy="228.3" r="2.4"/><circle cx="1174.8" cy="255.4" r="2.4"/><circle cx="1174.4" cy="278.4" r="2.4"/><circle cx="1174.8" cy="309.7" r="2.4"/><circle cx="1174.4" cy="319.6" r="2.4"/><circle cx="1174.8" cy="346.3" r="2.4"/><circle cx="1174.4" cy="356.2" r="2.4"/><circle cx="1174.8" cy="383.6" r="2.4"/><circle cx="1174.4" cy="405.9" r="2.4"/><circle cx="1174.8" cy="430.8" r="2.4"/><circle cx="1174.4" cy="461.2" r="2.4"/><circle cx="1174.8" cy="471.1" r="2.4"/><circle cx="1174.4" cy="497.7" r="2.4"/><circle cx="1174.8" cy="527.6" r="2.4"/><circle cx="1174.4" cy="552.0" r="2.4"/><circle cx="1174.8" cy="580.6" r="2.4"/><circle cx="1192.4" cy="63.3" r="2.3"/><circle cx="1192.8" cy="152.9" r="2.4"/><circle cx="1192.4" cy="174.4" r="2.4"/><circle cx="1192.8" cy="206.0" r="2.4"/><circle cx="1192.4" cy="234.9" r="2.4"/><circle cx="1192.8" cy="257.0" r="2.4"/><circle cx="1192.4" cy="283.0" r="2.4"/><circle cx="1192.8" cy="311.8" r="2.4"/><circle cx="1192.4" cy="321.7" r="2.4"/><circle cx="1192.8" cy="352.0" r="2.4"/><circle cx="1192.4" cy="370.3" r="2.4"/><circle cx="1192.8" cy="388.0" r="2.4"/><circle cx="1192.4" cy="397.9" r="2.4"/><circle cx="1192.8" cy="424.2" r="2.4"/><circle cx="1192.4" cy="453.1" r="2.4"/><circle cx="1192.8" cy="479.4" r="2.4"/><circle cx="1192.4" cy="506.0" r="2.4"/><circle cx="1192.8" cy="532.1" r="2.4"/><circle cx="1192.4" cy="552.7" r="2.4"/><circle cx="1210.6" cy="40.3" r="2.3"/><circle cx="1211.0" cy="146.8" r="2.4"/><circle cx="1210.6" cy="175.7" r="2.4"/><circle cx="1211.0" cy="197.0" r="2.4"/><circle cx="1210.6" cy="220.6" r="2.4"/><circle cx="1211.0" cy="244.3" r="2.4"/><circle cx="1210.6" cy="275.3" r="2.4"/><circle cx="1211.0" cy="285.2" r="2.4"/><circle cx="1210.6" cy="303.4" r="2.4"/><circle cx="1211.0" cy="313.3" r="2.4"/><circle cx="1210.6" cy="339.1" r="2.4"/><circle cx="1211.0" cy="363.1" r="2.4"/><circle cx="1210.6" cy="373.0" r="2.4"/><circle cx="1211.0" cy="399.0" r="2.4"/><circle cx="1210.6" cy="430.7" r="2.4"/><circle cx="1211.0" cy="454.2" r="2.4"/><circle cx="1210.6" cy="464.1" r="2.4"/><circle cx="1211.0" cy="484.7" r="2.4"/><circle cx="1210.6" cy="494.6" r="2.4"/><circle cx="1211.0" cy="504.5" r="2.4"/><circle cx="1210.6" cy="514.4" r="2.4"/><circle cx="1211.0" cy="533.7" r="2.4"/><circle cx="1210.6" cy="552.6" r="2.4"/><circle cx="1228.9" cy="17.3" r="2.3"/><circle cx="1228.9" cy="147.7" r="2.4"/><circle cx="1229.3" cy="175.5" r="2.4"/><circle cx="1228.9" cy="206.4" r="2.4"/><circle cx="1229.3" cy="237.8" r="2.4"/><circle cx="1228.9" cy="255.5" r="2.4"/><circle cx="1229.3" cy="265.4" r="2.4"/><circle cx="1228.9" cy="294.7" r="2.4"/><circle cx="1229.3" cy="304.6" r="2.4"/><circle cx="1228.9" cy="332.7" r="2.4"/><circle cx="1229.3" cy="342.6" r="2.4"/><circle cx="1228.9" cy="367.1" r="2.4"/><circle cx="1229.3" cy="377.0" r="2.4"/><circle cx="1228.9" cy="402.8" r="2.4"/><circle cx="1229.3" cy="430.1" r="2.4"/><circle cx="1228.9" cy="440.0" r="2.4"/><circle cx="1229.3" cy="462.8" r="2.4"/><circle cx="1228.9" cy="489.4" r="2.4"/><circle cx="1229.3" cy="512.5" r="2.4"/><circle cx="1228.9" cy="543.6" r="2.4"/><circle cx="1246.4" cy="-5.7" r="2.3"/><circle cx="1246.4" cy="152.8" r="2.4"/><circle cx="1246.8" cy="175.8" r="2.4"/><circle cx="1246.4" cy="202.0" r="2.4"/><circle cx="1246.8" cy="231.1" r="2.4"/><circle cx="1246.4" cy="248.7" r="2.4"/><circle cx="1246.8" cy="272.4" r="2.4"/><circle cx="1246.4" cy="301.6" r="2.4"/><circle cx="1246.8" cy="319.8" r="2.4"/><circle cx="1246.4" cy="349.1" r="2.4"/><circle cx="1246.8" cy="374.8" r="2.4"/><circle cx="1246.4" cy="404.6" r="2.4"/><circle cx="1246.8" cy="432.0" r="2.4"/><circle cx="1246.4" cy="454.6" r="2.4"/><circle cx="1246.8" cy="464.5" r="2.4"/><circle cx="1246.4" cy="493.5" r="2.4"/><circle cx="1246.8" cy="503.4" r="2.4"/><circle cx="1246.4" cy="534.3" r="2.4"/><circle cx="1264.4" cy="-28.7" r="2.3"/><circle cx="1264.8" cy="161.2" r="2.4"/><circle cx="1264.4" cy="185.6" r="2.4"/><circle cx="1264.8" cy="205.9" r="2.4"/><circle cx="1264.4" cy="215.8" r="2.4"/><circle cx="1264.8" cy="225.7" r="2.4"/><circle cx="1264.4" cy="248.5" r="2.4"/><circle cx="1264.8" cy="271.9" r="2.4"/><circle cx="1264.4" cy="291.6" r="2.4"/><circle cx="1264.8" cy="301.5" r="2.4"/><circle cx="1264.4" cy="324.4" r="2.4"/><circle cx="1264.8" cy="334.3" r="2.4"/><circle cx="1264.4" cy="363.2" r="2.4"/><circle cx="1264.8" cy="373.1" r="2.4"/><circle cx="1264.4" cy="395.6" r="2.4"/><circle cx="1264.8" cy="413.5" r="2.4"/><circle cx="1264.4" cy="423.4" r="2.4"/><circle cx="1264.8" cy="453.4" r="2.4"/><circle cx="1264.4" cy="479.1" r="2.4"/><circle cx="1264.8" cy="507.9" r="2.4"/><circle cx="1281.4" cy="-51.7" r="2.3"/><circle cx="1281.8" cy="140.5" r="2.4"/><circle cx="1281.4" cy="163.7" r="2.4"/><circle cx="1281.8" cy="173.6" r="2.4"/><circle cx="1281.4" cy="194.9" r="2.4"/><circle cx="1281.8" cy="221.7" r="2.4"/><circle cx="1281.4" cy="248.9" r="2.4"/><circle cx="1281.8" cy="272.9" r="2.4"/><circle cx="1281.4" cy="282.8" r="2.4"/><circle cx="1281.8" cy="314.6" r="2.4"/><circle cx="1281.4" cy="332.7" r="2.4"/><circle cx="1281.8" cy="355.3" r="2.4"/><circle cx="1281.4" cy="385.9" r="2.4"/><circle cx="1281.8" cy="404.1" r="2.4"/><circle cx="1281.4" cy="431.9" r="2.4"/><circle cx="1281.8" cy="463.6" r="2.4"/><circle cx="1281.4" cy="473.5" r="2.4"/><circle cx="1281.8" cy="483.4" r="2.4"/><circle cx="1298.6" cy="-74.7" r="2.3"/><circle cx="1299.0" cy="162.3" r="2.4"/><circle cx="1298.6" cy="181.9" r="2.4"/><circle cx="1299.0" cy="200.8" r="2.4"/><circle cx="1298.6" cy="230.5" r="2.4"/><circle cx="1299.0" cy="254.6" r="2.4"/><circle cx="1298.6" cy="283.9" r="2.4"/><circle cx="1299.0" cy="310.5" r="2.4"/><circle cx="1298.6" cy="320.4" r="2.4"/><circle cx="1299.0" cy="338.8" r="2.4"/><circle cx="1298.6" cy="364.3" r="2.4"/><circle cx="1299.0" cy="374.2" r="2.4"/><circle cx="1298.6" cy="395.6" r="2.4"/><circle cx="1299.0" cy="415.5" r="2.4"/><circle cx="1298.6" cy="445.1" r="2.4"/><circle cx="1299.0" cy="465.1" r="2.4"/><circle cx="1298.6" cy="487.2" r="2.4"/><circle cx="1315.6" cy="-97.7" r="2.3"/><circle cx="1316.0" cy="152.2" r="2.4"/><circle cx="1315.6" cy="170.0" r="2.4"/><circle cx="1316.0" cy="192.5" r="2.4"/><circle cx="1315.6" cy="202.4" r="2.4"/><circle cx="1316.0" cy="212.3" r="2.4"/><circle cx="1315.6" cy="237.4" r="2.4"/><circle cx="1316.0" cy="247.3" r="2.4"/><circle cx="1315.6" cy="277.9" r="2.4"/><circle cx="1316.0" cy="287.8" r="2.4"/><circle cx="1315.6" cy="307.4" r="2.4"/><circle cx="1316.0" cy="317.3" r="2.4"/><circle cx="1315.6" cy="345.1" r="2.4"/><circle cx="1316.0" cy="355.0" r="2.4"/><circle cx="1315.6" cy="364.9" r="2.4"/><circle cx="1316.0" cy="374.8" r="2.4"/><circle cx="1315.6" cy="399.5" r="2.4"/><circle cx="1316.0" cy="420.0" r="2.4"/><circle cx="1315.6" cy="447.7" r="2.4"/><circle cx="1316.0" cy="473.7" r="2.4"/><circle cx="1332.4" cy="-120.7" r="2.3"/><circle cx="1332.8" cy="153.8" r="2.4"/><circle cx="1332.4" cy="173.2" r="2.4"/><circle cx="1332.8" cy="202.4" r="2.4"/><circle cx="1332.4" cy="224.6" r="2.4"/><circle cx="1332.8" cy="247.7" r="2.4"/><circle cx="1332.4" cy="266.1" r="2.4"/><circle cx="1332.8" cy="297.4" r="2.4"/><circle cx="1332.4" cy="322.3" r="2.4"/><circle cx="1332.8" cy="347.6" r="2.4"/><circle cx="1332.4" cy="357.5" r="2.4"/><circle cx="1332.8" cy="378.3" r="2.4"/><circle cx="1332.4" cy="388.2" r="2.4"/><circle cx="1332.8" cy="398.1" r="2.4"/><circle cx="1332.4" cy="427.4" r="2.4"/><circle cx="1332.8" cy="437.3" r="2.4"/><circle cx="1332.4" cy="447.2" r="2.4"/><circle cx="1349.3" cy="-143.7" r="2.3"/><circle cx="1349.3" cy="153.4" r="2.4"/><circle cx="1349.8" cy="177.1" r="2.4"/><circle cx="1349.3" cy="202.2" r="2.4"/><circle cx="1349.8" cy="233.2" r="2.4"/><circle cx="1349.3" cy="255.7" r="2.4"/><circle cx="1349.8" cy="278.1" r="2.4"/><circle cx="1349.3" cy="309.7" r="2.4"/><circle cx="1349.8" cy="340.3" r="2.4"/><circle cx="1349.3" cy="370.1" r="2.4"/><circle cx="1349.8" cy="380.0" r="2.4"/><circle cx="1349.3" cy="411.3" r="2.4"/><circle cx="1349.8" cy="432.4" r="2.4"/><circle cx="1365.6" cy="-166.7" r="2.3"/><circle cx="1365.6" cy="158.6" r="2.4"/><circle cx="1366.0" cy="185.5" r="2.4"/><circle cx="1365.6" cy="195.4" r="2.4"/><circle cx="1366.0" cy="226.7" r="2.4"/><circle cx="1365.6" cy="248.1" r="2.4"/><circle cx="1366.0" cy="273.3" r="2.4"/><circle cx="1365.6" cy="283.2" r="2.4"/><circle cx="1366.0" cy="293.1" r="2.4"/><circle cx="1365.6" cy="303.0" r="2.4"/><circle cx="1366.0" cy="326.5" r="2.4"/><circle cx="1365.6" cy="347.5" r="2.4"/><circle cx="1366.0" cy="357.4" r="2.4"/><circle cx="1365.6" cy="387.0" r="2.4"/><circle cx="1366.0" cy="412.8" r="2.4"/><circle cx="1381.8" cy="-189.7" r="2.3"/><circle cx="1382.2" cy="150.9" r="2.4"/><circle cx="1381.8" cy="170.1" r="2.4"/><circle cx="1382.2" cy="201.4" r="2.4"/><circle cx="1381.8" cy="221.2" r="2.4"/><circle cx="1382.2" cy="243.9" r="2.4"/><circle cx="1381.8" cy="270.3" r="2.4"/><circle cx="1382.2" cy="299.6" r="2.4"/><circle cx="1381.8" cy="327.8" r="2.4"/><circle cx="1382.2" cy="356.2" r="2.4"/><circle cx="1381.8" cy="385.1" r="2.4"/><circle cx="1398.6" cy="-212.7" r="2.3"/><circle cx="1399.0" cy="156.7" r="2.4"/><circle cx="1398.6" cy="166.6" r="2.4"/><circle cx="1399.0" cy="188.9" r="2.4"/><circle cx="1398.6" cy="218.5" r="2.4"/><circle cx="1399.0" cy="239.0" r="2.4"/><circle cx="1398.6" cy="269.6" r="2.4"/><circle cx="1399.0" cy="279.5" r="2.4"/><circle cx="1398.6" cy="289.4" r="2.4"/><circle cx="1399.0" cy="314.1" r="2.4"/><circle cx="1398.6" cy="342.8" r="2.4"/><circle cx="1399.0" cy="374.7" r="2.4"/><circle cx="1414.8" cy="-235.7" r="2.3"/><circle cx="1415.2" cy="153.6" r="2.4"/><circle cx="1414.8" cy="185.3" r="2.4"/><circle cx="1415.2" cy="208.9" r="2.4"/><circle cx="1414.8" cy="218.8" r="2.4"/><circle cx="1415.2" cy="243.7" r="2.4"/><circle cx="1414.8" cy="264.0" r="2.4"/><circle cx="1415.2" cy="273.9" r="2.4"/><circle cx="1414.8" cy="300.2" r="2.4"/><circle cx="1415.2" cy="332.0" r="2.4"/><circle cx="1414.8" cy="350.2" r="2.4"/><circle cx="1430.4" cy="-258.7" r="2.3"/><circle cx="1430.4" cy="142.4" r="2.4"/><circle cx="1430.8" cy="161.4" r="2.4"/><circle cx="1430.4" cy="187.4" r="2.4"/><circle cx="1430.8" cy="211.4" r="2.4"/><circle cx="1430.4" cy="229.8" r="2.4"/><circle cx="1430.8" cy="255.7" r="2.4"/><circle cx="1430.4" cy="279.6" r="2.4"/><circle cx="1430.8" cy="300.8" r="2.4"/><circle cx="1430.4" cy="310.7" r="2.4"/><circle cx="1430.8" cy="340.5" r="2.4"/><circle cx="1446.4" cy="-281.7" r="2.3"/><circle cx="1446.8" cy="157.6" r="2.4"/><circle cx="1446.4" cy="187.2" r="2.4"/><circle cx="1446.8" cy="197.1" r="2.4"/><circle cx="1446.4" cy="226.6" r="2.4"/><circle cx="1446.8" cy="246.5" r="2.4"/><circle cx="1446.4" cy="274.4" r="2.4"/><circle cx="1446.8" cy="305.7" r="2.4"/><circle cx="1446.4" cy="315.6" r="2.4"/><circle cx="1461.5" cy="-304.7" r="2.3"/><circle cx="1462.0" cy="150.0" r="2.4"/><circle cx="1461.5" cy="180.3" r="2.4"/><circle cx="1462.0" cy="199.7" r="2.4"/><circle cx="1461.5" cy="217.8" r="2.4"/><circle cx="1462.0" cy="244.9" r="2.4"/><circle cx="1461.5" cy="268.4" r="2.4"/><circle cx="1462.0" cy="296.0" r="2.4"/><circle cx="1477.6" cy="-327.7" r="2.3"/><circle cx="1477.6" cy="142.1" r="2.4"/><circle cx="1478.0" cy="171.6" r="2.4"/><circle cx="1477.6" cy="190.5" r="2.4"/><circle cx="1478.0" cy="214.1" r="2.4"/><circle cx="1477.6" cy="241.6" r="2.4"/><circle cx="1478.0" cy="271.1" r="2.4"/><circle cx="1493.3" cy="-350.7" r="2.3"/><circle cx="1493.3" cy="140.2" r="2.4"/><circle cx="1493.8" cy="168.7" r="2.4"/><circle cx="1493.3" cy="188.0" r="2.4"/><circle cx="1493.8" cy="210.7" r="2.4"/><circle cx="1493.3" cy="220.6" r="2.4"/><circle cx="1493.8" cy="230.5" r="2.4"/><circle cx="1508.7" cy="-373.7" r="2.3"/><circle cx="1508.7" cy="142.2" r="2.4"/><circle cx="1509.1" cy="164.4" r="2.4"/><circle cx="1508.7" cy="189.9" r="2.4"/><circle cx="1524.5" cy="-396.7" r="2.3"/><circle cx="1540.6" cy="-419.7" r="2.3"/>
</g>
<g clip-path="url(#ax)" fill="none">
<line x1="1230.2" y1="144.5" x2="1230.2" y2="1068.5" stroke="#0000ff" stroke-width="4.2"/>
<line x1="1351.0" y1="144.5" x2="1351.0" y2="1068.5" stroke="#0000ff" stroke-width="4.2"/>
<line x1="225.5" y1="728.9" x2="1620.5" y2="728.9" stroke="#008000" stroke-width="4.2"/>
<line x1="225.5" y1="645.0" x2="1620.5" y2="645.0" stroke="#ffa500" stroke-width="2.1"/>
<line x1="225.5" y1="780.7" x2="1620.5" y2="780.7" stroke="#ffa500" stroke-width="2.1"/>
</g>
<g font-size="16.67px"><text transform="translate(317.9 984.5) rotate(-45)">n=1</text><text transform="translate(341.2 942.3) rotate(-45)">n=2</text><text transform="translate(364.5 899.0) rotate(-45)">n=3</text><text transform="translate(388.9 857.3) rotate(-45)">n=4</text><text transform="translate(413.3 818.2) rotate(-45)">n=5</text><text transform="translate(438.6 783.8) rotate(-45)">n=6</text><text transform="translate(463.9 749.5) rotate(-45)">n=7</text><text transform="translate(489.4 719.8) rotate(-45)">n=8</text><text transform="translate(514.1 692.3) rotate(-45)">n=9</text><text transform="translate(539.1 668.2) rotate(-45)">n=10</text><text transform="translate(564.1 647.0) rotate(-45)">n=11</text><text transform="translate(588.2 624.8) rotate(-45)">n=12</text><text transform="translate(613.1 601.5) rotate(-45)">n=13</text><text transform="translate(637.2 579.8) rotate(-45)">n=14</text><text transform="translate(661.4 559.0) rotate(-45)">n=15</text><text transform="translate(684.7 539.8) rotate(-45)">n=16</text><text transform="translate(708.2 524.0) rotate(-45)">n=17</text><text transform="translate(731.4 506.5) rotate(-45)">n=18</text><text transform="translate(754.4 489.2) rotate(-45)">n=19</text><text transform="translate(776.6 472.9) rotate(-45)">n=20</text><text transform="translate(799.4 457.3) rotate(-45)">n=21</text><text transform="translate(821.4 439.0) rotate(-45)">n=22</text><text transform="translate(843.2 423.4) rotate(-45)">n=23</text><text transform="translate(864.6 409.7) rotate(-45)">n=24</text><text transform="translate(886.4 391.3) rotate(-45)">n=25</text><text transform="translate(907.2 372.1) rotate(-45)">n=26</text><text transform="translate(928.2 357.4) rotate(-45)">n=27</text><text transform="translate(949.2 339.7) rotate(-45)">n=28</text><text transform="translate(970.2 322.5) rotate(-45)">n=29</text><text transform="translate(990.4 305.0) rotate(-45)">n=30</text><text transform="translate(1050.4 245.3) rotate(-45)">n=31</text><text transform="translate(1070.2 224.2) rotate(-45)">n=32</text><text transform="translate(1089.4 201.2) rotate(-45)">n=33</text><text transform="translate(1108.4 179.5) rotate(-45)">n=34</text><text transform="translate(1127.2 154.5) rotate(-45)">n=35</text></g>
<g clip-path="url(#ax)" fill="#ffff00" fill-opacity="0.2" stroke="#ffff00" stroke-opacity="0.2" stroke-width="1.4">
<circle cx="1230.5" cy="719.0" r="6.9"/>
<circle cx="1248.5" cy="712.0" r="6.9"/>
<circle cx="1248.5" cy="715.0" r="6.9"/>
<circle cx="1248.5" cy="718.0" r="6.9"/>
<circle cx="1265.8" cy="701.0" r="6.9"/>
<circle cx="1265.8" cy="704.0" r="6.9"/>
<circle cx="1265.8" cy="707.0" r="6.9"/>
<circle cx="1265.8" cy="710.0" r="6.9"/>
<circle cx="1265.8" cy="713.0" r="6.9"/>
<circle cx="1265.8" cy="716.0" r="6.9"/>
<circle cx="1265.8" cy="719.0" r="6.9"/>
<circle cx="1265.8" cy="722.0" r="6.9"/>
<circle cx="1265.8" cy="725.0" r="6.9"/>
<circle cx="1265.8" cy="728.0" r="6.9"/>
<circle cx="1265.8" cy="729.5" r="6.9"/>
<circle cx="1283.3" cy="691.5" r="6.9"/>
<circle cx="1283.3" cy="694.5" r="6.9"/>
<circle cx="1283.3" cy="697.5" r="6.9"/>
<circle cx="1283.3" cy="700.5" r="6.9"/>
<circle cx="1283.3" cy="703.5" r="6.9"/>
<circle cx="1283.3" cy="706.5" r="6.9"/>
<circle cx="1283.3" cy="709.5" r="6.9"/>
<circle cx="1283.3" cy="712.5" r="6.9"/>
<circle cx="1283.3" cy="715.5" r="6.9"/>
<circle cx="1283.3" cy="717.0" r="6.9"/>
<circle cx="1300.3" cy="681.0" r="6.9"/>
<circle cx="1300.3" cy="684.0" r="6.9"/>
<circle cx="1300.3" cy="687.0" r="6.9"/>
<circle cx="1300.3" cy="690.0" r="6.9"/>
<circle cx="1300.3" cy="693.0" r="6.9"/>
<circle cx="1300.3" cy="696.0" r="6.9"/>
<circle cx="1300.3" cy="699.0" r="6.9"/>
<circle cx="1300.3" cy="702.0" r="6.9"/>
<circle cx="1300.3" cy="704.0" r="6.9"/>
<circle cx="1317.2" cy="665.0" r="6.9"/>
<circle cx="1317.2" cy="668.0" r="6.9"/>
<circle cx="1317.2" cy="671.0" r="6.9"/>
<circle cx="1317.2" cy="674.0" r="6.9"/>
<circle cx="1317.2" cy="677.0" r="6.9"/>
<circle cx="1317.2" cy="680.0" r="6.9"/>
<circle cx="1317.2" cy="683.0" r="6.9"/>
<circle cx="1317.2" cy="686.0" r="6.9"/>
<circle cx="1317.2" cy="689.0" r="6.9"/>
<circle cx="1334.2" cy="653.0" r="6.9"/>
<circle cx="1334.2" cy="656.0" r="6.9"/>
<circle cx="1334.2" cy="659.0" r="6.9"/>
<circle cx="1334.2" cy="662.0" r="6.9"/>
<circle cx="1334.2" cy="665.0" r="6.9"/>
<circle cx="1334.2" cy="668.0" r="6.9"/>
<circle cx="1334.2" cy="671.0" r="6.9"/>
<circle cx="1334.2" cy="673.5" r="6.9"/>
<circle cx="1351.0" cy="648.0" r="6.9"/>
<circle cx="1351.0" cy="651.0" r="6.9"/>
<circle cx="1351.0" cy="654.0" r="6.9"/>
<circle cx="1351.0" cy="657.0" r="6.9"/>
<circle cx="1351.0" cy="658.5" r="6.9"/>
</g>
<rect x="225.5" y="144.5" width="1395.0" height="924.0" fill="none" stroke="#000" stroke-width="1.1"/>
<path d="M225.5 1047.20 h-17.3 M225.5 934.34 h-17.3 M225.5 821.48 h-17.3 M225.5 708.62 h-17.3 M225.5 595.75 h-17.3 M225.5 482.89 h-17.3 M225.5 370.03 h-17.3 M225.5 257.16 h-17.3 M225.5 144.30 h-17.3 M225.5 1024.63 h-11.3 M225.5 1002.06 h-11.3 M225.5 979.49 h-11.3 M225.5 956.91 h-11.3 M225.5 911.77 h-11.3 M225.5 889.20 h-11.3 M225.5 866.62 h-11.3 M225.5 844.05 h-11.3 M225.5 798.91 h-11.3 M225.5 776.33 h-11.3 M225.5 753.76 h-11.3 M225.5 731.19 h-11.3 M225.5 686.04 h-11.3 M225.5 663.47 h-11.3 M225.5 640.90 h-11.3 M225.5 618.32 h-11.3 M225.5 573.18 h-11.3 M225.5 550.61 h-11.3 M225.5 528.03 h-11.3 M225.5 505.46 h-11.3 M225.5 460.32 h-11.3 M225.5 437.74 h-11.3 M225.5 415.17 h-11.3 M225.5 392.60 h-11.3 M225.5 347.45 h-11.3 M225.5 324.88 h-11.3 M225.5 302.31 h-11.3 M225.5 279.74 h-11.3 M225.5 234.59 h-11.3 M225.5 212.02 h-11.3 M225.5 189.45 h-11.3 M225.5 166.87 h-11.3 M252.90 1068.5 v16.7 M308.39 1068.5 v11.1 M363.87 1068.5 v11.1 M419.36 1068.5 v11.1 M474.84 1068.5 v11.1 M530.32 1068.5 v16.7 M585.81 1068.5 v11.1 M641.29 1068.5 v11.1 M696.78 1068.5 v11.1 M752.27 1068.5 v11.1 M807.75 1068.5 v16.7 M863.23 1068.5 v11.1 M918.72 1068.5 v11.1 M974.20 1068.5 v11.1 M1029.69 1068.5 v11.1 M1085.18 1068.5 v16.7 M1140.66 1068.5 v11.1 M1196.15 1068.5 v11.1 M1251.63 1068.5 v11.1 M1307.11 1068.5 v11.1 M1362.60 1068.5 v16.7 M1418.08 1068.5 v11.1 M1473.57 1068.5 v11.1 M1529.06 1068.5 v11.1 M1584.54 1068.5 v11.1" stroke="#000" stroke-width="5.56" fill="none"/>
<g font-size="34.72px" letter-spacing="1.12">
<text x="205.3" y="1061.6" text-anchor="end" letter-spacing="1.4">200</text>
<text x="205.3" y="948.7" text-anchor="end" letter-spacing="1.4">300</text>
<text x="205.3" y="835.9" text-anchor="end" letter-spacing="1.4">400</text>
<text x="205.3" y="723.0" text-anchor="end" letter-spacing="1.4">500</text>
<text x="205.3" y="610.2" text-anchor="end" letter-spacing="1.4">600</text>
<text x="205.3" y="497.3" text-anchor="end" letter-spacing="1.4">700</text>
<text x="205.3" y="384.4" text-anchor="end" letter-spacing="1.4">800</text>
<text x="205.3" y="271.6" text-anchor="end" letter-spacing="1.4">900</text>
<text x="205.3" y="158.7" text-anchor="end" letter-spacing="1.4">1000</text>
<text x="253.5" y="1117.2" text-anchor="middle">117.20</text>
<text x="530.9" y="1117.2" text-anchor="middle">117.25</text>
<text x="808.3" y="1117.2" text-anchor="middle">117.30</text>
<text x="1085.8" y="1117.2" text-anchor="middle">117.35</text>
<text x="1363.2" y="1117.2" text-anchor="middle">117.40</text>
</g>
<text x="922.5" y="1160.3" font-size="41.67px" text-anchor="middle">Age (Myr)</text>
<text transform="translate(97 606.5) rotate(-90)" font-size="41.67px" text-anchor="middle">FM period (days)</text>
<rect x="235.4" y="154.6" width="446.4" height="182.8" rx="4.2" ry="4.2" fill="#fff" fill-opacity="0.8" stroke="#ccc" stroke-opacity="0.8" stroke-width="1.4"/>
<line x1="244.1" y1="171.3" x2="284.8" y2="171.3" stroke="#000" stroke-width="2.1" stroke-linecap="square"/>
<circle cx="265.4" cy="171.3" r="2.45" fill="#000"/>
<line x1="244.1" y1="202.8" x2="284.8" y2="202.8" stroke="#0000ff" stroke-width="4.2" stroke-linecap="square"/>
<line x1="244.1" y1="233.0" x2="284.8" y2="233.0" stroke="#008000" stroke-width="4.2" stroke-linecap="square"/>
<line x1="244.1" y1="263.8" x2="284.8" y2="263.8" stroke="#ffa500" stroke-width="2.1" stroke-linecap="square"/>
<circle cx="265.3" cy="308.4" r="6.9" fill="#ffff00" fill-opacity="0.2" stroke="#ffff00" stroke-opacity="0.2" stroke-width="1.4"/>
<g font-size="20.83px">
<text x="302.3" y="178.5">m4.10_z0.0030</text>
<text x="302.3" y="209.9">peak detector horizontal bounds</text>
<text x="302.3" y="240.4">min. P consistent with observations</text>
<text x="302.3" y="270.9">max. P must fall within this span</text>
<text x="302.3" y="300.9">intersection w/ P,L,T,R</text>
<text x="302.3" y="324.7">loosely defined</text>
</g>
</svg></body></html>
